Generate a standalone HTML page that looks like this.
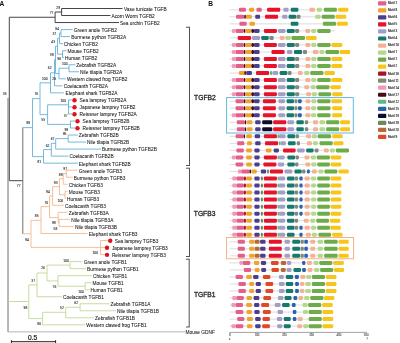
<!DOCTYPE html>
<html><head><meta charset="utf-8"><style>
html,body{margin:0;padding:0;background:#fff;width:400px;height:343px;overflow:hidden}
svg{display:block;position:absolute;left:0;top:0;filter:blur(0.35px)}
</style></head><body>
<svg width="400" height="343" viewBox="0 0 400 343">
<line x1="9.30" y1="17.25" x2="9.30" y2="180.70" stroke="#444444" stroke-width="1.0"/>
<line x1="9.30" y1="17.25" x2="55.10" y2="17.25" stroke="#444444" stroke-width="1.0"/>
<line x1="55.10" y1="12.02" x2="55.10" y2="22.56" stroke="#444444" stroke-width="1.0"/>
<line x1="55.10" y1="12.02" x2="61.60" y2="12.02" stroke="#444444" stroke-width="1.0"/>
<line x1="61.60" y1="8.50" x2="61.60" y2="15.53" stroke="#444444" stroke-width="1.0"/>
<line x1="61.60" y1="8.50" x2="122.50" y2="8.50" stroke="#444444" stroke-width="1.0"/>
<line x1="61.60" y1="15.53" x2="110.50" y2="15.53" stroke="#444444" stroke-width="1.0"/>
<line x1="55.10" y1="22.56" x2="119.00" y2="22.56" stroke="#444444" stroke-width="1.0"/>
<line x1="8.00" y1="98.00" x2="8.00" y2="331.88" stroke="#707070" stroke-width="1.0"/>
<line x1="9.30" y1="180.70" x2="22.80" y2="180.70" stroke="#444444" stroke-width="1.0"/>
<line x1="22.80" y1="127.60" x2="22.80" y2="233.80" stroke="#707070" stroke-width="1.0"/>
<line x1="8.00" y1="331.88" x2="185.00" y2="331.88" stroke="#a8a8b8" stroke-width="0.9"/>
<line x1="22.80" y1="127.60" x2="32.50" y2="127.60" stroke="#52aad2" stroke-width="0.8"/>
<line x1="32.50" y1="98.60" x2="32.50" y2="156.60" stroke="#52aad2" stroke-width="0.8"/>
<line x1="32.50" y1="98.60" x2="40.00" y2="98.60" stroke="#52aad2" stroke-width="0.8"/>
<line x1="40.00" y1="82.85" x2="40.00" y2="114.60" stroke="#52aad2" stroke-width="0.8"/>
<line x1="40.00" y1="82.85" x2="50.50" y2="82.85" stroke="#52aad2" stroke-width="0.8"/>
<line x1="50.50" y1="72.80" x2="50.50" y2="92.86" stroke="#52aad2" stroke-width="0.8"/>
<line x1="50.50" y1="92.86" x2="63.80" y2="92.86" stroke="#52aad2" stroke-width="0.8"/>
<line x1="50.50" y1="72.80" x2="54.50" y2="72.80" stroke="#52aad2" stroke-width="0.8"/>
<line x1="54.50" y1="59.75" x2="54.50" y2="85.83" stroke="#52aad2" stroke-width="0.8"/>
<line x1="54.50" y1="85.83" x2="62.50" y2="85.83" stroke="#52aad2" stroke-width="0.8"/>
<line x1="54.50" y1="59.75" x2="55.50" y2="59.75" stroke="#52aad2" stroke-width="0.8"/>
<line x1="55.50" y1="46.20" x2="55.50" y2="73.50" stroke="#52aad2" stroke-width="0.8"/>
<line x1="55.50" y1="46.20" x2="57.50" y2="46.20" stroke="#52aad2" stroke-width="0.8"/>
<line x1="57.50" y1="38.30" x2="57.50" y2="54.15" stroke="#52aad2" stroke-width="0.8"/>
<line x1="57.50" y1="38.30" x2="59.50" y2="38.30" stroke="#52aad2" stroke-width="0.8"/>
<line x1="59.50" y1="33.00" x2="59.50" y2="43.65" stroke="#52aad2" stroke-width="0.8"/>
<line x1="59.50" y1="43.65" x2="63.00" y2="43.65" stroke="#52aad2" stroke-width="0.8"/>
<line x1="59.50" y1="33.00" x2="61.00" y2="33.00" stroke="#52aad2" stroke-width="0.8"/>
<line x1="61.00" y1="29.59" x2="61.00" y2="36.62" stroke="#52aad2" stroke-width="0.8"/>
<line x1="61.00" y1="29.59" x2="72.50" y2="29.59" stroke="#52aad2" stroke-width="0.8"/>
<line x1="61.00" y1="36.62" x2="70.00" y2="36.62" stroke="#52aad2" stroke-width="0.8"/>
<line x1="57.50" y1="54.15" x2="62.50" y2="54.15" stroke="#52aad2" stroke-width="0.8"/>
<line x1="62.50" y1="50.68" x2="62.50" y2="57.71" stroke="#52aad2" stroke-width="0.8"/>
<line x1="62.50" y1="50.68" x2="66.50" y2="50.68" stroke="#52aad2" stroke-width="0.8"/>
<line x1="62.50" y1="57.71" x2="64.00" y2="57.71" stroke="#52aad2" stroke-width="0.8"/>
<line x1="55.50" y1="73.50" x2="59.00" y2="73.50" stroke="#52aad2" stroke-width="0.8"/>
<line x1="59.00" y1="68.20" x2="59.00" y2="78.80" stroke="#52aad2" stroke-width="0.8"/>
<line x1="59.00" y1="78.80" x2="66.00" y2="78.80" stroke="#52aad2" stroke-width="0.8"/>
<line x1="59.00" y1="68.20" x2="69.00" y2="68.20" stroke="#52aad2" stroke-width="0.8"/>
<line x1="69.00" y1="64.74" x2="69.00" y2="71.77" stroke="#52aad2" stroke-width="0.8"/>
<line x1="69.00" y1="64.74" x2="75.30" y2="64.74" stroke="#52aad2" stroke-width="0.8"/>
<line x1="69.00" y1="71.77" x2="79.00" y2="71.77" stroke="#52aad2" stroke-width="0.8"/>
<line x1="40.00" y1="114.60" x2="47.60" y2="114.60" stroke="#52aad2" stroke-width="0.8"/>
<line x1="47.60" y1="104.80" x2="47.60" y2="124.40" stroke="#52aad2" stroke-width="0.8"/>
<line x1="47.60" y1="104.80" x2="68.50" y2="104.80" stroke="#52aad2" stroke-width="0.8"/>
<line x1="68.50" y1="99.89" x2="68.50" y2="113.95" stroke="#52aad2" stroke-width="0.8"/>
<line x1="68.50" y1="99.89" x2="72.00" y2="99.89" stroke="#52aad2" stroke-width="0.8"/>
<line x1="68.50" y1="106.92" x2="72.00" y2="106.92" stroke="#52aad2" stroke-width="0.8"/>
<line x1="68.50" y1="113.95" x2="72.00" y2="113.95" stroke="#52aad2" stroke-width="0.8"/>
<line x1="47.60" y1="124.40" x2="70.50" y2="124.40" stroke="#52aad2" stroke-width="0.8"/>
<line x1="70.50" y1="120.98" x2="70.50" y2="128.01" stroke="#52aad2" stroke-width="0.8"/>
<line x1="70.50" y1="120.98" x2="75.00" y2="120.98" stroke="#52aad2" stroke-width="0.8"/>
<line x1="70.50" y1="128.01" x2="75.00" y2="128.01" stroke="#52aad2" stroke-width="0.8"/>
<line x1="32.50" y1="156.60" x2="43.50" y2="156.60" stroke="#52aad2" stroke-width="0.8"/>
<line x1="43.50" y1="149.60" x2="43.50" y2="163.16" stroke="#52aad2" stroke-width="0.8"/>
<line x1="43.50" y1="163.16" x2="78.00" y2="163.16" stroke="#52aad2" stroke-width="0.8"/>
<line x1="43.50" y1="149.60" x2="51.30" y2="149.60" stroke="#52aad2" stroke-width="0.8"/>
<line x1="51.30" y1="143.30" x2="51.30" y2="156.13" stroke="#52aad2" stroke-width="0.8"/>
<line x1="51.30" y1="156.13" x2="68.50" y2="156.13" stroke="#52aad2" stroke-width="0.8"/>
<line x1="51.30" y1="143.30" x2="55.70" y2="143.30" stroke="#52aad2" stroke-width="0.8"/>
<line x1="55.70" y1="138.60" x2="55.70" y2="149.10" stroke="#52aad2" stroke-width="0.8"/>
<line x1="55.70" y1="149.10" x2="101.00" y2="149.10" stroke="#52aad2" stroke-width="0.8"/>
<line x1="55.70" y1="138.60" x2="68.20" y2="138.60" stroke="#52aad2" stroke-width="0.8"/>
<line x1="68.20" y1="135.04" x2="68.20" y2="142.07" stroke="#52aad2" stroke-width="0.8"/>
<line x1="68.20" y1="135.04" x2="77.80" y2="135.04" stroke="#52aad2" stroke-width="0.8"/>
<line x1="68.20" y1="142.07" x2="86.00" y2="142.07" stroke="#52aad2" stroke-width="0.8"/>
<line x1="22.80" y1="233.80" x2="31.00" y2="233.80" stroke="#f2ae80" stroke-width="0.8"/>
<line x1="31.00" y1="220.30" x2="31.00" y2="247.40" stroke="#f2ae80" stroke-width="0.8"/>
<line x1="31.00" y1="220.30" x2="41.00" y2="220.30" stroke="#f2ae80" stroke-width="0.8"/>
<line x1="41.00" y1="206.60" x2="41.00" y2="233.46" stroke="#f2ae80" stroke-width="0.8"/>
<line x1="41.00" y1="233.46" x2="87.60" y2="233.46" stroke="#f2ae80" stroke-width="0.8"/>
<line x1="41.00" y1="206.60" x2="49.50" y2="206.60" stroke="#f2ae80" stroke-width="0.8"/>
<line x1="49.50" y1="196.00" x2="49.50" y2="217.60" stroke="#f2ae80" stroke-width="0.8"/>
<line x1="49.50" y1="196.00" x2="52.60" y2="196.00" stroke="#f2ae80" stroke-width="0.8"/>
<line x1="52.60" y1="186.70" x2="52.60" y2="205.34" stroke="#f2ae80" stroke-width="0.8"/>
<line x1="52.60" y1="205.34" x2="64.00" y2="205.34" stroke="#f2ae80" stroke-width="0.8"/>
<line x1="52.60" y1="186.70" x2="59.50" y2="186.70" stroke="#f2ae80" stroke-width="0.8"/>
<line x1="59.50" y1="178.70" x2="59.50" y2="194.80" stroke="#f2ae80" stroke-width="0.8"/>
<line x1="59.50" y1="178.70" x2="63.20" y2="178.70" stroke="#f2ae80" stroke-width="0.8"/>
<line x1="63.20" y1="173.70" x2="63.20" y2="184.25" stroke="#f2ae80" stroke-width="0.8"/>
<line x1="63.20" y1="184.25" x2="67.60" y2="184.25" stroke="#f2ae80" stroke-width="0.8"/>
<line x1="63.20" y1="173.70" x2="66.30" y2="173.70" stroke="#f2ae80" stroke-width="0.8"/>
<line x1="66.30" y1="170.19" x2="66.30" y2="177.22" stroke="#f2ae80" stroke-width="0.8"/>
<line x1="66.30" y1="170.19" x2="77.60" y2="170.19" stroke="#f2ae80" stroke-width="0.8"/>
<line x1="66.30" y1="177.22" x2="72.60" y2="177.22" stroke="#f2ae80" stroke-width="0.8"/>
<line x1="59.50" y1="194.80" x2="65.00" y2="194.80" stroke="#f2ae80" stroke-width="0.8"/>
<line x1="65.00" y1="191.28" x2="65.00" y2="198.31" stroke="#f2ae80" stroke-width="0.8"/>
<line x1="65.00" y1="191.28" x2="67.60" y2="191.28" stroke="#f2ae80" stroke-width="0.8"/>
<line x1="65.00" y1="198.31" x2="66.00" y2="198.31" stroke="#f2ae80" stroke-width="0.8"/>
<line x1="49.50" y1="217.60" x2="58.20" y2="217.60" stroke="#f2ae80" stroke-width="0.8"/>
<line x1="58.20" y1="212.37" x2="58.20" y2="222.90" stroke="#f2ae80" stroke-width="0.8"/>
<line x1="58.20" y1="212.37" x2="67.60" y2="212.37" stroke="#f2ae80" stroke-width="0.8"/>
<line x1="58.20" y1="222.90" x2="59.10" y2="222.90" stroke="#f2ae80" stroke-width="0.8"/>
<line x1="59.10" y1="219.40" x2="59.10" y2="226.43" stroke="#f2ae80" stroke-width="0.8"/>
<line x1="59.10" y1="219.40" x2="70.00" y2="219.40" stroke="#f2ae80" stroke-width="0.8"/>
<line x1="59.10" y1="226.43" x2="73.80" y2="226.43" stroke="#f2ae80" stroke-width="0.8"/>
<line x1="31.00" y1="247.40" x2="100.60" y2="247.40" stroke="#f2ae80" stroke-width="0.8"/>
<line x1="100.60" y1="240.49" x2="100.60" y2="254.55" stroke="#f2ae80" stroke-width="0.8"/>
<line x1="100.60" y1="240.49" x2="108.00" y2="240.49" stroke="#f2ae80" stroke-width="0.8"/>
<line x1="100.60" y1="247.52" x2="105.00" y2="247.52" stroke="#f2ae80" stroke-width="0.8"/>
<line x1="100.60" y1="254.55" x2="105.00" y2="254.55" stroke="#f2ae80" stroke-width="0.8"/>
<line x1="8.00" y1="301.50" x2="28.80" y2="301.50" stroke="#b8d488" stroke-width="0.8"/>
<line x1="28.80" y1="284.90" x2="28.80" y2="318.60" stroke="#b8d488" stroke-width="0.8"/>
<line x1="28.80" y1="284.90" x2="37.00" y2="284.90" stroke="#b8d488" stroke-width="0.8"/>
<line x1="37.00" y1="273.00" x2="37.00" y2="296.73" stroke="#b8d488" stroke-width="0.8"/>
<line x1="37.00" y1="296.73" x2="62.00" y2="296.73" stroke="#b8d488" stroke-width="0.8"/>
<line x1="37.00" y1="273.00" x2="47.00" y2="273.00" stroke="#b8d488" stroke-width="0.8"/>
<line x1="47.00" y1="265.10" x2="47.00" y2="280.90" stroke="#b8d488" stroke-width="0.8"/>
<line x1="47.00" y1="265.10" x2="70.00" y2="265.10" stroke="#b8d488" stroke-width="0.8"/>
<line x1="70.00" y1="261.58" x2="70.00" y2="268.61" stroke="#b8d488" stroke-width="0.8"/>
<line x1="70.00" y1="261.58" x2="82.60" y2="261.58" stroke="#b8d488" stroke-width="0.8"/>
<line x1="70.00" y1="268.61" x2="86.00" y2="268.61" stroke="#b8d488" stroke-width="0.8"/>
<line x1="47.00" y1="280.90" x2="58.00" y2="280.90" stroke="#b8d488" stroke-width="0.8"/>
<line x1="58.00" y1="275.64" x2="58.00" y2="286.20" stroke="#b8d488" stroke-width="0.8"/>
<line x1="58.00" y1="275.64" x2="92.00" y2="275.64" stroke="#b8d488" stroke-width="0.8"/>
<line x1="58.00" y1="286.20" x2="85.10" y2="286.20" stroke="#b8d488" stroke-width="0.8"/>
<line x1="85.10" y1="282.67" x2="85.10" y2="289.70" stroke="#b8d488" stroke-width="0.8"/>
<line x1="85.10" y1="282.67" x2="91.60" y2="282.67" stroke="#b8d488" stroke-width="0.8"/>
<line x1="85.10" y1="289.70" x2="89.60" y2="289.70" stroke="#b8d488" stroke-width="0.8"/>
<line x1="28.80" y1="318.60" x2="42.60" y2="318.60" stroke="#b8d488" stroke-width="0.8"/>
<line x1="42.60" y1="312.30" x2="42.60" y2="324.85" stroke="#b8d488" stroke-width="0.8"/>
<line x1="42.60" y1="324.85" x2="85.00" y2="324.85" stroke="#b8d488" stroke-width="0.8"/>
<line x1="42.60" y1="312.30" x2="65.70" y2="312.30" stroke="#b8d488" stroke-width="0.8"/>
<line x1="65.70" y1="307.30" x2="65.70" y2="317.82" stroke="#b8d488" stroke-width="0.8"/>
<line x1="65.70" y1="317.82" x2="94.00" y2="317.82" stroke="#b8d488" stroke-width="0.8"/>
<line x1="65.70" y1="307.30" x2="80.10" y2="307.30" stroke="#b8d488" stroke-width="0.8"/>
<line x1="80.10" y1="303.76" x2="80.10" y2="310.79" stroke="#b8d488" stroke-width="0.8"/>
<line x1="80.10" y1="303.76" x2="109.50" y2="303.76" stroke="#b8d488" stroke-width="0.8"/>
<line x1="80.10" y1="310.79" x2="116.00" y2="310.79" stroke="#b8d488" stroke-width="0.8"/>
<line x1="189.50" y1="27.25" x2="189.50" y2="165.50" stroke="#4a4a4a" stroke-width="0.95"/>
<line x1="186.00" y1="27.25" x2="189.95" y2="27.25" stroke="#4a4a4a" stroke-width="0.95"/>
<line x1="186.00" y1="165.50" x2="189.95" y2="165.50" stroke="#4a4a4a" stroke-width="0.95"/>
<line x1="189.50" y1="168.20" x2="189.50" y2="256.50" stroke="#4a4a4a" stroke-width="0.95"/>
<line x1="186.00" y1="168.20" x2="189.95" y2="168.20" stroke="#4a4a4a" stroke-width="0.95"/>
<line x1="186.00" y1="256.50" x2="189.95" y2="256.50" stroke="#4a4a4a" stroke-width="0.95"/>
<line x1="189.20" y1="259.20" x2="189.20" y2="327.00" stroke="#4a4a4a" stroke-width="0.95"/>
<line x1="186.00" y1="259.20" x2="189.65" y2="259.20" stroke="#4a4a4a" stroke-width="0.95"/>
<line x1="186.00" y1="327.00" x2="189.65" y2="327.00" stroke="#4a4a4a" stroke-width="0.95"/>
<circle cx="74.5" cy="100.19" r="2.2" fill="#e3101e"/>
<circle cx="74.5" cy="107.22" r="2.2" fill="#e3101e"/>
<circle cx="74.5" cy="114.25" r="2.2" fill="#e3101e"/>
<circle cx="77.5" cy="121.28" r="2.2" fill="#e3101e"/>
<circle cx="77.5" cy="128.31" r="2.2" fill="#e3101e"/>
<circle cx="110.2" cy="240.79" r="2.2" fill="#e3101e"/>
<circle cx="107" cy="247.82" r="2.2" fill="#e3101e"/>
<circle cx="107" cy="254.85" r="2.2" fill="#e3101e"/>
<g font-family="Liberation Sans" font-size="4.8" fill="#111" stroke="#111" stroke-width="0.05"><text x="124" y="10.85">Vase tunicate TGFB</text><text x="111.5" y="17.88">Acorn Worm TGFB2</text><text x="120" y="24.91">Sea urchin TGFB2</text><text x="73.8" y="31.94">Green anole TGFB2</text><text x="71.3" y="38.97">Burmese python TGFB2A</text><text x="63.8" y="46.00">Chicken TGFB2</text><text x="67.5" y="53.03">Mouse TGFB2</text><text x="65" y="60.06">Human TGFB2</text><text x="76.3" y="67.09">Zebrafish TGFB2A</text><text x="80.1" y="74.12">Nile tilapia TGFB2A</text><text x="67" y="81.15">Western clawed frog TGFB2</text><text x="63.8" y="88.18">Coelacanth TGFB2A</text><text x="65.5" y="95.21">Elephant shark TGFB2A</text><text x="79.6" y="102.24">Sea lamprey TGFB2A</text><text x="79.6" y="109.27">Japanese lamprey TGFB2</text><text x="79.6" y="116.30">Reissner lamprey TGFB2A</text><text x="82.6" y="123.33">Sea lamprey TGFB2B</text><text x="82.6" y="130.36">Reissner lamprey TGFB2B</text><text x="78.8" y="137.39">Zebrafish TGFB2B</text><text x="87.1" y="144.42">Nile tilapia TGFB2B</text><text x="102" y="151.45">Burmese python TGFB2B</text><text x="69.5" y="158.48">Coelacanth TGFB2B</text><text x="78.8" y="165.51">Elephant shark TGFB2B</text><text x="78.8" y="172.54">Green anole TGFB3</text><text x="73.8" y="179.57">Burmese python TGFB3</text><text x="68.8" y="186.60">Chicken TGFB3</text><text x="68.8" y="193.63">Mouse TGFB3</text><text x="67" y="200.66">Human TGFB3</text><text x="65" y="207.69">Coelacanth TGFB3</text><text x="68.8" y="214.72">Zebrafish TGFB3A</text><text x="71.3" y="221.75">Nile tilapia TGFB3A</text><text x="75" y="228.78">Nile tilapia TGFB3B</text><text x="88.8" y="235.81">Elephant shark TGFB3</text><text x="114.7" y="242.84">Sea lamprey TGFB3</text><text x="111.9" y="249.87">Japanese lamprey TGFB3</text><text x="111.9" y="256.90">Reissner lamprey TGFB3</text><text x="83.8" y="263.93">Green anole TGFB1</text><text x="87.1" y="270.96">Burmese python TGFB1</text><text x="93.1" y="277.99">Chicken TGFB1</text><text x="92.6" y="285.02">Mouse TGFB1</text><text x="90.6" y="292.05">Human TGFB1</text><text x="63" y="299.08">Coelacanth TGFB1</text><text x="110.5" y="306.11">Zebrafish TGFB1A</text><text x="117" y="313.14">Nile tilapia TGFB1B</text><text x="95.1" y="320.17">Zebrafish TGFB1B</text><text x="86.3" y="327.20">Western clawed frog TGFB1</text><text x="185.6" y="334.23">Mouse GDNF</text></g>
<g font-family="Liberation Sans" font-size="3.35" fill="#1a1a1a" stroke="#1a1a1a" stroke-width="0.07" text-anchor="end"><text x="60" y="8.50">29</text><text x="53.4" y="13.70">77</text><text x="59" y="29.60">84</text><text x="56.2" y="35.10">37</text><text x="55" y="42.60">43</text><text x="53.5" y="56.10">39</text><text x="61" y="60.10">96</text><text x="67.5" y="65.10">100</text><text x="51.5" y="69.10">62</text><text x="56" y="79.60">26</text><text x="47.5" y="79.60">100</text><text x="38.2" y="94.90">76</text><text x="6.5" y="95.10">35</text><text x="66" y="102.10">100</text><text x="45" y="121.10">55</text><text x="30" y="124.30">98</text><text x="68.2" y="130.80">99</text><text x="66.4" y="134.80">95</text><text x="54.4" y="140.10">67</text><text x="49.4" y="146.60">62</text><text x="41" y="162.70">91</text><text x="67" y="169.90">97</text><text x="62.6" y="175.60">89</text><text x="57.6" y="183.50">93</text><text x="20.6" y="187.30">77</text><text x="49.8" y="192.70">94</text><text x="63.2" y="201.90">100</text><text x="48.2" y="203.60">70</text><text x="38.5" y="216.80">85</text><text x="55.7" y="224.00">99</text><text x="57.3" y="229.80">58</text><text x="28.8" y="240.70">94</text><text x="98" y="254.10">100</text><text x="68.8" y="261.60">100</text><text x="44.9" y="269.30">26</text><text x="35.1" y="281.80">37</text><text x="56.3" y="288.10">76</text><text x="83.8" y="292.50">100</text><text x="78" y="304.20">62</text><text x="27.3" y="308.60">98</text><text x="63.8" y="309.20">52</text><text x="41" y="325.20">80</text><text x="67.5" y="116.6" fill="#5a6a30">97</text></g>
<g font-family="Liberation Sans" font-size="6.7" fill="#222" stroke="#222" stroke-width="0.28"><text x="194.1" y="99.8">TGFB2</text><text x="193.8" y="216.1">TGFB3</text><text x="194" y="297.2">TGFB1</text></g>
<g font-family="Liberation Sans" font-weight="bold" font-size="6.6" fill="#111"><text x="-0.6" y="5.8">A</text><text x="208.3" y="6.2">B</text></g>
<line x1="11.20" y1="341.70" x2="55.80" y2="341.70" stroke="#222" stroke-width="1.0"/>
<line x1="11.40" y1="340.20" x2="11.40" y2="343.00" stroke="#222" stroke-width="1.0"/>
<line x1="55.60" y1="340.20" x2="55.60" y2="343.00" stroke="#222" stroke-width="1.0"/>
<text x="32.6" y="339.7" font-family="Liberation Sans" font-size="6.6" fill="#111" stroke="#111" stroke-width="0.2" text-anchor="middle">0.5</text>
<line x1="229.60" y1="9.80" x2="348.30" y2="9.80" stroke="#c4c4c4" stroke-width="0.6"/>
<rect x="238.90" y="7.80" width="7.00" height="4.0" rx="1.10" fill="#e4608a"/>
<rect x="249.00" y="7.80" width="5.10" height="4.0" rx="1.10" fill="#f2a42a"/>
<rect x="256.50" y="7.80" width="5.20" height="4.0" rx="1.10" fill="#e4608a"/>
<rect x="267.10" y="7.80" width="13.10" height="4.0" rx="1.10" fill="#e6132b"/>
<rect x="283.40" y="7.80" width="5.20" height="4.0" rx="1.10" fill="#a39ec6"/>
<rect x="290.70" y="7.80" width="7.70" height="4.0" rx="1.10" fill="#157a6d"/>
<rect x="309.50" y="7.80" width="5.40" height="4.0" rx="1.10" fill="#f5b193"/>
<rect x="316.80" y="7.80" width="4.90" height="4.0" rx="1.10" fill="#b6d88c"/>
<rect x="323.90" y="7.80" width="13.00" height="4.0" rx="1.10" fill="#6cad4a"/>
<rect x="338.10" y="7.80" width="10.20" height="4.0" rx="1.10" fill="#f8c61a"/>
<line x1="229.60" y1="16.83" x2="346.20" y2="16.83" stroke="#c4c4c4" stroke-width="0.6"/>
<rect x="236.00" y="14.83" width="8.30" height="4.0" rx="1.10" fill="#e4608a"/>
<rect x="244.30" y="14.83" width="1.60" height="4.0" rx="0.80" fill="#4a0c14"/>
<rect x="245.90" y="14.83" width="6.00" height="4.0" rx="1.10" fill="#f2a42a"/>
<rect x="255.20" y="14.83" width="4.90" height="4.0" rx="1.10" fill="#4b3e8e"/>
<rect x="265.00" y="14.83" width="13.10" height="4.0" rx="1.10" fill="#e6132b"/>
<rect x="282.10" y="14.83" width="5.30" height="4.0" rx="1.10" fill="#a39ec6"/>
<rect x="288.60" y="14.83" width="7.50" height="4.0" rx="1.10" fill="#157a6d"/>
<rect x="296.40" y="14.83" width="4.10" height="4.0" rx="1.10" fill="#7d8b7c"/>
<rect x="315.20" y="14.83" width="5.40" height="4.0" rx="1.10" fill="#b6d88c"/>
<rect x="321.70" y="14.83" width="13.10" height="4.0" rx="1.10" fill="#6cad4a"/>
<rect x="335.60" y="14.83" width="10.60" height="4.0" rx="1.10" fill="#f8c61a"/>
<line x1="229.60" y1="23.86" x2="347.90" y2="23.86" stroke="#c4c4c4" stroke-width="0.6"/>
<rect x="239.40" y="21.86" width="7.30" height="4.0" rx="1.10" fill="#e4608a"/>
<rect x="249.50" y="21.86" width="5.40" height="4.0" rx="1.10" fill="#f2a42a"/>
<rect x="290.70" y="21.86" width="7.70" height="4.0" rx="1.10" fill="#157a6d"/>
<rect x="322.90" y="21.86" width="13.20" height="4.0" rx="1.10" fill="#6cad4a"/>
<rect x="336.90" y="21.86" width="11.00" height="4.0" rx="1.10" fill="#f8c61a"/>
<line x1="229.60" y1="30.89" x2="335.00" y2="30.89" stroke="#c4c4c4" stroke-width="0.6"/>
<rect x="231.90" y="28.89" width="3.70" height="4.0" rx="1.10" fill="#ee9ab8"/>
<rect x="235.60" y="28.89" width="8.20" height="4.0" rx="1.10" fill="#e4608a"/>
<rect x="243.80" y="28.89" width="1.60" height="4.0" rx="0.80" fill="#4a0c14"/>
<rect x="245.40" y="28.89" width="6.00" height="4.0" rx="1.10" fill="#f2a42a"/>
<rect x="251.40" y="28.89" width="2.60" height="4.0" rx="1.10" fill="#4a0c14"/>
<rect x="254.00" y="28.89" width="5.60" height="4.0" rx="1.10" fill="#4b3e8e"/>
<rect x="263.90" y="28.89" width="13.00" height="4.0" rx="1.10" fill="#e6132b"/>
<rect x="278.00" y="28.89" width="7.50" height="4.0" rx="1.10" fill="#a39ec6"/>
<rect x="286.80" y="28.89" width="8.00" height="4.0" rx="1.10" fill="#157a6d"/>
<rect x="295.10" y="28.89" width="4.10" height="4.0" rx="1.10" fill="#7d8b7c"/>
<rect x="305.40" y="28.89" width="4.90" height="4.0" rx="1.10" fill="#f5b193"/>
<rect x="311.30" y="28.89" width="4.90" height="4.0" rx="1.10" fill="#b6d88c"/>
<rect x="317.30" y="28.89" width="13.30" height="4.0" rx="1.10" fill="#6cad4a"/>
<line x1="229.60" y1="37.92" x2="316.60" y2="37.92" stroke="#c4c4c4" stroke-width="0.6"/>
<rect x="237.70" y="35.92" width="13.40" height="4.0" rx="1.10" fill="#e6132b"/>
<rect x="252.00" y="35.92" width="8.10" height="4.0" rx="1.10" fill="#a39ec6"/>
<rect x="261.20" y="35.92" width="7.60" height="4.0" rx="1.10" fill="#157a6d"/>
<rect x="269.40" y="35.92" width="4.30" height="4.0" rx="1.10" fill="#7d8b7c"/>
<rect x="279.70" y="35.92" width="4.90" height="4.0" rx="1.10" fill="#f5b193"/>
<rect x="285.40" y="35.92" width="5.30" height="4.0" rx="1.10" fill="#b6d88c"/>
<rect x="291.50" y="35.92" width="13.50" height="4.0" rx="1.10" fill="#6cad4a"/>
<rect x="305.90" y="35.92" width="10.70" height="4.0" rx="1.10" fill="#f8c61a"/>
<line x1="229.60" y1="44.95" x2="342.30" y2="44.95" stroke="#c4c4c4" stroke-width="0.6"/>
<rect x="231.90" y="42.95" width="3.70" height="4.0" rx="1.10" fill="#ee9ab8"/>
<rect x="235.60" y="42.95" width="8.20" height="4.0" rx="1.10" fill="#e4608a"/>
<rect x="243.80" y="42.95" width="1.60" height="4.0" rx="0.80" fill="#4a0c14"/>
<rect x="245.40" y="42.95" width="6.00" height="4.0" rx="1.10" fill="#f2a42a"/>
<rect x="251.40" y="42.95" width="2.60" height="4.0" rx="1.10" fill="#4a0c14"/>
<rect x="254.00" y="42.95" width="5.60" height="4.0" rx="1.10" fill="#4b3e8e"/>
<rect x="263.90" y="42.95" width="13.00" height="4.0" rx="1.10" fill="#e6132b"/>
<rect x="278.00" y="42.95" width="7.50" height="4.0" rx="1.10" fill="#a39ec6"/>
<rect x="286.80" y="42.95" width="8.00" height="4.0" rx="1.10" fill="#157a6d"/>
<rect x="295.10" y="42.95" width="4.10" height="4.0" rx="1.10" fill="#7d8b7c"/>
<rect x="305.40" y="42.95" width="4.90" height="4.0" rx="1.10" fill="#f5b193"/>
<rect x="311.30" y="42.95" width="4.90" height="4.0" rx="1.10" fill="#b6d88c"/>
<rect x="317.30" y="42.95" width="13.30" height="4.0" rx="1.10" fill="#6cad4a"/>
<rect x="331.50" y="42.95" width="10.80" height="4.0" rx="1.10" fill="#f8c61a"/>
<line x1="229.60" y1="51.98" x2="350.20" y2="51.98" stroke="#c4c4c4" stroke-width="0.6"/>
<rect x="231.90" y="49.98" width="3.70" height="4.0" rx="1.10" fill="#ee9ab8"/>
<rect x="235.60" y="49.98" width="8.20" height="4.0" rx="1.10" fill="#e4608a"/>
<rect x="243.80" y="49.98" width="1.60" height="4.0" rx="0.80" fill="#4a0c14"/>
<rect x="245.40" y="49.98" width="6.00" height="4.0" rx="1.10" fill="#f2a42a"/>
<rect x="251.40" y="49.98" width="2.60" height="4.0" rx="1.10" fill="#4a0c14"/>
<rect x="254.00" y="49.98" width="5.60" height="4.0" rx="1.10" fill="#4b3e8e"/>
<rect x="271.50" y="49.98" width="13.10" height="4.0" rx="1.10" fill="#e6132b"/>
<rect x="287.00" y="49.98" width="5.30" height="4.0" rx="1.10" fill="#a39ec6"/>
<rect x="294.00" y="49.98" width="8.10" height="4.0" rx="1.10" fill="#157a6d"/>
<rect x="303.00" y="49.98" width="4.00" height="4.0" rx="1.10" fill="#7d8b7c"/>
<rect x="312.80" y="49.98" width="5.70" height="4.0" rx="1.10" fill="#f5b193"/>
<rect x="319.50" y="49.98" width="4.80" height="4.0" rx="1.10" fill="#b6d88c"/>
<rect x="325.50" y="49.98" width="13.50" height="4.0" rx="1.10" fill="#6cad4a"/>
<rect x="339.70" y="49.98" width="10.50" height="4.0" rx="1.10" fill="#f8c61a"/>
<line x1="229.60" y1="59.01" x2="342.30" y2="59.01" stroke="#c4c4c4" stroke-width="0.6"/>
<rect x="231.90" y="57.01" width="3.70" height="4.0" rx="1.10" fill="#ee9ab8"/>
<rect x="235.60" y="57.01" width="8.20" height="4.0" rx="1.10" fill="#e4608a"/>
<rect x="243.80" y="57.01" width="1.60" height="4.0" rx="0.80" fill="#4a0c14"/>
<rect x="245.40" y="57.01" width="6.00" height="4.0" rx="1.10" fill="#f2a42a"/>
<rect x="251.40" y="57.01" width="2.60" height="4.0" rx="1.10" fill="#4a0c14"/>
<rect x="254.00" y="57.01" width="5.60" height="4.0" rx="1.10" fill="#4b3e8e"/>
<rect x="263.90" y="57.01" width="13.00" height="4.0" rx="1.10" fill="#e6132b"/>
<rect x="278.00" y="57.01" width="7.50" height="4.0" rx="1.10" fill="#a39ec6"/>
<rect x="286.80" y="57.01" width="8.00" height="4.0" rx="1.10" fill="#157a6d"/>
<rect x="295.10" y="57.01" width="4.10" height="4.0" rx="1.10" fill="#7d8b7c"/>
<rect x="305.40" y="57.01" width="4.90" height="4.0" rx="1.10" fill="#f5b193"/>
<rect x="311.30" y="57.01" width="4.90" height="4.0" rx="1.10" fill="#b6d88c"/>
<rect x="317.30" y="57.01" width="13.30" height="4.0" rx="1.10" fill="#6cad4a"/>
<rect x="331.50" y="57.01" width="10.80" height="4.0" rx="1.10" fill="#f8c61a"/>
<line x1="229.60" y1="66.04" x2="342.30" y2="66.04" stroke="#c4c4c4" stroke-width="0.6"/>
<rect x="231.90" y="64.04" width="3.70" height="4.0" rx="1.10" fill="#ee9ab8"/>
<rect x="235.60" y="64.04" width="8.20" height="4.0" rx="1.10" fill="#e4608a"/>
<rect x="243.80" y="64.04" width="1.60" height="4.0" rx="0.80" fill="#4a0c14"/>
<rect x="245.40" y="64.04" width="6.00" height="4.0" rx="1.10" fill="#f2a42a"/>
<rect x="251.40" y="64.04" width="2.60" height="4.0" rx="1.10" fill="#4a0c14"/>
<rect x="254.00" y="64.04" width="5.60" height="4.0" rx="1.10" fill="#4b3e8e"/>
<rect x="263.90" y="64.04" width="13.00" height="4.0" rx="1.10" fill="#e6132b"/>
<rect x="278.00" y="64.04" width="7.50" height="4.0" rx="1.10" fill="#a39ec6"/>
<rect x="286.80" y="64.04" width="8.00" height="4.0" rx="1.10" fill="#157a6d"/>
<rect x="295.10" y="64.04" width="4.10" height="4.0" rx="1.10" fill="#7d8b7c"/>
<rect x="305.40" y="64.04" width="4.90" height="4.0" rx="1.10" fill="#f5b193"/>
<rect x="311.30" y="64.04" width="4.90" height="4.0" rx="1.10" fill="#b6d88c"/>
<rect x="317.30" y="64.04" width="13.30" height="4.0" rx="1.10" fill="#6cad4a"/>
<rect x="331.50" y="64.04" width="10.80" height="4.0" rx="1.10" fill="#f8c61a"/>
<line x1="229.60" y1="73.07" x2="334.80" y2="73.07" stroke="#c4c4c4" stroke-width="0.6"/>
<rect x="238.90" y="71.07" width="5.40" height="4.0" rx="1.10" fill="#f2a42a"/>
<rect x="244.30" y="71.07" width="1.60" height="4.0" rx="0.80" fill="#4a0c14"/>
<rect x="246.20" y="71.07" width="5.70" height="4.0" rx="1.10" fill="#4b3e8e"/>
<rect x="256.00" y="71.07" width="13.10" height="4.0" rx="1.10" fill="#e6132b"/>
<rect x="269.90" y="71.07" width="2.40" height="4.0" rx="1.10" fill="#5cb88a"/>
<rect x="272.70" y="71.07" width="5.40" height="4.0" rx="1.10" fill="#a39ec6"/>
<rect x="279.70" y="71.07" width="7.70" height="4.0" rx="1.10" fill="#157a6d"/>
<rect x="288.00" y="71.07" width="3.50" height="4.0" rx="1.10" fill="#7d8b7c"/>
<rect x="298.00" y="71.07" width="4.60" height="4.0" rx="1.10" fill="#f5b193"/>
<rect x="304.30" y="71.07" width="4.90" height="4.0" rx="1.10" fill="#b6d88c"/>
<rect x="310.30" y="71.07" width="13.10" height="4.0" rx="1.10" fill="#6cad4a"/>
<rect x="324.50" y="71.07" width="10.30" height="4.0" rx="1.10" fill="#f8c61a"/>
<line x1="229.60" y1="80.10" x2="342.30" y2="80.10" stroke="#c4c4c4" stroke-width="0.6"/>
<rect x="231.90" y="78.10" width="3.70" height="4.0" rx="1.10" fill="#ee9ab8"/>
<rect x="235.60" y="78.10" width="8.20" height="4.0" rx="1.10" fill="#e4608a"/>
<rect x="243.80" y="78.10" width="1.60" height="4.0" rx="0.80" fill="#4a0c14"/>
<rect x="245.40" y="78.10" width="6.00" height="4.0" rx="1.10" fill="#f2a42a"/>
<rect x="251.40" y="78.10" width="2.60" height="4.0" rx="1.10" fill="#4a0c14"/>
<rect x="254.00" y="78.10" width="5.60" height="4.0" rx="1.10" fill="#4b3e8e"/>
<rect x="263.90" y="78.10" width="13.00" height="4.0" rx="1.10" fill="#e6132b"/>
<rect x="278.00" y="78.10" width="7.50" height="4.0" rx="1.10" fill="#a39ec6"/>
<rect x="286.80" y="78.10" width="8.00" height="4.0" rx="1.10" fill="#157a6d"/>
<rect x="295.10" y="78.10" width="4.10" height="4.0" rx="1.10" fill="#7d8b7c"/>
<rect x="305.40" y="78.10" width="4.90" height="4.0" rx="1.10" fill="#f5b193"/>
<rect x="311.30" y="78.10" width="4.90" height="4.0" rx="1.10" fill="#b6d88c"/>
<rect x="317.30" y="78.10" width="13.30" height="4.0" rx="1.10" fill="#6cad4a"/>
<rect x="331.50" y="78.10" width="10.80" height="4.0" rx="1.10" fill="#f8c61a"/>
<line x1="229.60" y1="87.13" x2="340.80" y2="87.13" stroke="#c4c4c4" stroke-width="0.6"/>
<rect x="231.90" y="85.13" width="3.70" height="4.0" rx="1.10" fill="#ee9ab8"/>
<rect x="235.60" y="85.13" width="8.20" height="4.0" rx="1.10" fill="#e4608a"/>
<rect x="243.80" y="85.13" width="1.60" height="4.0" rx="0.80" fill="#4a0c14"/>
<rect x="245.40" y="85.13" width="6.00" height="4.0" rx="1.10" fill="#f2a42a"/>
<rect x="251.40" y="85.13" width="2.60" height="4.0" rx="1.10" fill="#4a0c14"/>
<rect x="254.00" y="85.13" width="5.60" height="4.0" rx="1.10" fill="#4b3e8e"/>
<rect x="263.90" y="85.13" width="13.00" height="4.0" rx="1.10" fill="#e6132b"/>
<rect x="278.00" y="85.13" width="7.50" height="4.0" rx="1.10" fill="#a39ec6"/>
<rect x="286.80" y="85.13" width="8.00" height="4.0" rx="1.10" fill="#157a6d"/>
<rect x="295.10" y="85.13" width="4.10" height="4.0" rx="1.10" fill="#7d8b7c"/>
<rect x="304.30" y="85.13" width="4.90" height="4.0" rx="1.10" fill="#f5b193"/>
<rect x="310.80" y="85.13" width="4.90" height="4.0" rx="1.10" fill="#b6d88c"/>
<rect x="316.30" y="85.13" width="13.10" height="4.0" rx="1.10" fill="#6cad4a"/>
<rect x="330.40" y="85.13" width="10.40" height="4.0" rx="1.10" fill="#f8c61a"/>
<line x1="229.60" y1="94.16" x2="342.50" y2="94.16" stroke="#c4c4c4" stroke-width="0.6"/>
<rect x="231.90" y="92.16" width="3.70" height="4.0" rx="1.10" fill="#ee9ab8"/>
<rect x="235.60" y="92.16" width="8.20" height="4.0" rx="1.10" fill="#e4608a"/>
<rect x="243.80" y="92.16" width="1.60" height="4.0" rx="0.80" fill="#4a0c14"/>
<rect x="245.40" y="92.16" width="6.00" height="4.0" rx="1.10" fill="#f2a42a"/>
<rect x="251.40" y="92.16" width="2.60" height="4.0" rx="1.10" fill="#4a0c14"/>
<rect x="254.00" y="92.16" width="5.60" height="4.0" rx="1.10" fill="#4b3e8e"/>
<rect x="263.90" y="92.16" width="13.00" height="4.0" rx="1.10" fill="#e6132b"/>
<rect x="278.00" y="92.16" width="7.50" height="4.0" rx="1.10" fill="#a39ec6"/>
<rect x="286.80" y="92.16" width="8.00" height="4.0" rx="1.10" fill="#157a6d"/>
<rect x="295.10" y="92.16" width="4.10" height="4.0" rx="1.10" fill="#7d8b7c"/>
<rect x="306.20" y="92.16" width="4.90" height="4.0" rx="1.10" fill="#f5b193"/>
<rect x="312.00" y="92.16" width="4.80" height="4.0" rx="1.10" fill="#b6d88c"/>
<rect x="318.50" y="92.16" width="12.50" height="4.0" rx="1.10" fill="#6cad4a"/>
<rect x="332.30" y="92.16" width="10.20" height="4.0" rx="1.10" fill="#f8c61a"/>
<line x1="229.60" y1="101.19" x2="342.10" y2="101.19" stroke="#c4c4c4" stroke-width="0.6"/>
<rect x="235.60" y="99.19" width="8.20" height="4.0" rx="1.10" fill="#e4608a"/>
<rect x="243.80" y="99.19" width="1.60" height="4.0" rx="0.80" fill="#4a0c14"/>
<rect x="245.40" y="99.19" width="6.00" height="4.0" rx="1.10" fill="#f2a42a"/>
<rect x="251.40" y="99.19" width="2.60" height="4.0" rx="1.10" fill="#4a0c14"/>
<rect x="254.00" y="99.19" width="5.60" height="4.0" rx="1.10" fill="#4b3e8e"/>
<rect x="262.90" y="99.19" width="13.00" height="4.0" rx="1.10" fill="#e6132b"/>
<rect x="278.50" y="99.19" width="6.50" height="4.0" rx="1.10" fill="#a39ec6"/>
<rect x="286.60" y="99.19" width="7.40" height="4.0" rx="1.10" fill="#157a6d"/>
<rect x="294.50" y="99.19" width="2.90" height="4.0" rx="1.10" fill="#7d8b7c"/>
<rect x="298.00" y="99.19" width="3.70" height="4.0" rx="1.10" fill="#2b62b0"/>
<rect x="305.60" y="99.19" width="4.70" height="4.0" rx="1.10" fill="#f5b193"/>
<rect x="311.40" y="99.19" width="4.90" height="4.0" rx="1.10" fill="#b6d88c"/>
<rect x="317.30" y="99.19" width="13.10" height="4.0" rx="1.10" fill="#6cad4a"/>
<rect x="331.50" y="99.19" width="10.60" height="4.0" rx="1.10" fill="#f8c61a"/>
<line x1="229.60" y1="108.22" x2="342.10" y2="108.22" stroke="#c4c4c4" stroke-width="0.6"/>
<rect x="235.60" y="106.22" width="8.20" height="4.0" rx="1.10" fill="#e4608a"/>
<rect x="243.80" y="106.22" width="1.60" height="4.0" rx="0.80" fill="#4a0c14"/>
<rect x="245.40" y="106.22" width="6.00" height="4.0" rx="1.10" fill="#f2a42a"/>
<rect x="251.40" y="106.22" width="2.60" height="4.0" rx="1.10" fill="#4a0c14"/>
<rect x="254.00" y="106.22" width="5.60" height="4.0" rx="1.10" fill="#4b3e8e"/>
<rect x="262.90" y="106.22" width="13.00" height="4.0" rx="1.10" fill="#e6132b"/>
<rect x="278.50" y="106.22" width="6.50" height="4.0" rx="1.10" fill="#a39ec6"/>
<rect x="286.60" y="106.22" width="7.40" height="4.0" rx="1.10" fill="#157a6d"/>
<rect x="294.50" y="106.22" width="2.90" height="4.0" rx="1.10" fill="#7d8b7c"/>
<rect x="298.00" y="106.22" width="3.70" height="4.0" rx="1.10" fill="#2b62b0"/>
<rect x="305.40" y="106.22" width="4.90" height="4.0" rx="1.10" fill="#f5b193"/>
<rect x="311.10" y="106.22" width="4.90" height="4.0" rx="1.10" fill="#b6d88c"/>
<rect x="317.30" y="106.22" width="13.10" height="4.0" rx="1.10" fill="#6cad4a"/>
<rect x="332.30" y="106.22" width="9.80" height="4.0" rx="1.10" fill="#f8c61a"/>
<line x1="229.60" y1="115.25" x2="342.10" y2="115.25" stroke="#c4c4c4" stroke-width="0.6"/>
<rect x="231.90" y="113.25" width="3.70" height="4.0" rx="1.10" fill="#ee9ab8"/>
<rect x="235.60" y="113.25" width="8.20" height="4.0" rx="1.10" fill="#e4608a"/>
<rect x="243.80" y="113.25" width="1.60" height="4.0" rx="0.80" fill="#4a0c14"/>
<rect x="245.40" y="113.25" width="6.00" height="4.0" rx="1.10" fill="#f2a42a"/>
<rect x="251.40" y="113.25" width="2.60" height="4.0" rx="1.10" fill="#4a0c14"/>
<rect x="254.00" y="113.25" width="5.60" height="4.0" rx="1.10" fill="#4b3e8e"/>
<rect x="262.90" y="113.25" width="13.00" height="4.0" rx="1.10" fill="#e6132b"/>
<rect x="278.50" y="113.25" width="6.50" height="4.0" rx="1.10" fill="#a39ec6"/>
<rect x="286.60" y="113.25" width="7.40" height="4.0" rx="1.10" fill="#157a6d"/>
<rect x="294.50" y="113.25" width="2.90" height="4.0" rx="1.10" fill="#7d8b7c"/>
<rect x="298.00" y="113.25" width="3.70" height="4.0" rx="1.10" fill="#2b62b0"/>
<rect x="305.40" y="113.25" width="4.90" height="4.0" rx="1.10" fill="#f5b193"/>
<rect x="311.10" y="113.25" width="4.90" height="4.0" rx="1.10" fill="#b6d88c"/>
<rect x="317.30" y="113.25" width="13.10" height="4.0" rx="1.10" fill="#6cad4a"/>
<rect x="332.30" y="113.25" width="9.80" height="4.0" rx="1.10" fill="#f8c61a"/>
<line x1="229.60" y1="122.28" x2="350.00" y2="122.28" stroke="#c4c4c4" stroke-width="0.6"/>
<rect x="236.80" y="120.28" width="8.10" height="4.0" rx="1.10" fill="#e4608a"/>
<rect x="244.90" y="120.28" width="1.30" height="4.0" rx="0.65" fill="#4a0c14"/>
<rect x="247.00" y="120.28" width="5.40" height="4.0" rx="1.10" fill="#f2a42a"/>
<rect x="255.20" y="120.28" width="5.40" height="4.0" rx="1.10" fill="#4b3e8e"/>
<rect x="262.20" y="120.28" width="10.10" height="4.0" rx="1.10" fill="#0c0c2e"/>
<rect x="273.20" y="120.28" width="13.10" height="4.0" rx="1.10" fill="#e6132b"/>
<rect x="287.40" y="120.28" width="6.60" height="4.0" rx="1.10" fill="#a39ec6"/>
<rect x="296.40" y="120.28" width="7.40" height="4.0" rx="1.10" fill="#157a6d"/>
<rect x="304.90" y="120.28" width="3.30" height="4.0" rx="1.10" fill="#7d8b7c"/>
<rect x="313.10" y="120.28" width="4.90" height="4.0" rx="1.10" fill="#f5b193"/>
<rect x="319.60" y="120.28" width="5.40" height="4.0" rx="1.10" fill="#b6d88c"/>
<rect x="326.10" y="120.28" width="13.10" height="4.0" rx="1.10" fill="#6cad4a"/>
<rect x="340.20" y="120.28" width="9.80" height="4.0" rx="1.10" fill="#f8c61a"/>
<line x1="229.60" y1="129.31" x2="350.00" y2="129.31" stroke="#c4c4c4" stroke-width="0.6"/>
<rect x="236.80" y="127.31" width="8.10" height="4.0" rx="1.10" fill="#e4608a"/>
<rect x="244.90" y="127.31" width="1.30" height="4.0" rx="0.65" fill="#4a0c14"/>
<rect x="247.00" y="127.31" width="5.40" height="4.0" rx="1.10" fill="#f2a42a"/>
<rect x="255.20" y="127.31" width="5.40" height="4.0" rx="1.10" fill="#4b3e8e"/>
<rect x="262.20" y="127.31" width="10.10" height="4.0" rx="1.10" fill="#0c0c2e"/>
<rect x="273.20" y="127.31" width="13.10" height="4.0" rx="1.10" fill="#e6132b"/>
<rect x="287.40" y="127.31" width="6.60" height="4.0" rx="1.10" fill="#a39ec6"/>
<rect x="296.40" y="127.31" width="7.40" height="4.0" rx="1.10" fill="#157a6d"/>
<rect x="304.90" y="127.31" width="3.30" height="4.0" rx="1.10" fill="#7d8b7c"/>
<rect x="313.10" y="127.31" width="4.90" height="4.0" rx="1.10" fill="#f5b193"/>
<rect x="319.60" y="127.31" width="5.40" height="4.0" rx="1.10" fill="#b6d88c"/>
<rect x="326.10" y="127.31" width="13.10" height="4.0" rx="1.10" fill="#6cad4a"/>
<rect x="340.20" y="127.31" width="9.80" height="4.0" rx="1.10" fill="#f8c61a"/>
<line x1="229.60" y1="136.34" x2="342.50" y2="136.34" stroke="#c4c4c4" stroke-width="0.6"/>
<rect x="235.60" y="134.34" width="8.20" height="4.0" rx="1.10" fill="#e4608a"/>
<rect x="243.80" y="134.34" width="1.20" height="4.0" rx="0.60" fill="#4a0c14"/>
<rect x="246.20" y="134.34" width="5.70" height="4.0" rx="1.10" fill="#f2a42a"/>
<rect x="254.70" y="134.34" width="5.40" height="4.0" rx="1.10" fill="#4b3e8e"/>
<rect x="263.90" y="134.34" width="13.00" height="4.0" rx="1.10" fill="#e6132b"/>
<rect x="277.50" y="134.34" width="1.50" height="4.0" rx="0.75" fill="#5cb88a"/>
<rect x="279.00" y="134.34" width="6.50" height="4.0" rx="1.10" fill="#a39ec6"/>
<rect x="287.40" y="134.34" width="7.70" height="4.0" rx="1.10" fill="#157a6d"/>
<rect x="295.60" y="134.34" width="3.30" height="4.0" rx="1.10" fill="#7d8b7c"/>
<rect x="306.20" y="134.34" width="4.90" height="4.0" rx="1.10" fill="#f5b193"/>
<rect x="312.00" y="134.34" width="4.80" height="4.0" rx="1.10" fill="#b6d88c"/>
<rect x="317.70" y="134.34" width="13.30" height="4.0" rx="1.10" fill="#6cad4a"/>
<rect x="332.30" y="134.34" width="10.20" height="4.0" rx="1.10" fill="#f8c61a"/>
<line x1="229.60" y1="143.37" x2="343.40" y2="143.37" stroke="#c4c4c4" stroke-width="0.6"/>
<rect x="237.20" y="141.37" width="7.10" height="4.0" rx="1.10" fill="#e4608a"/>
<rect x="247.00" y="141.37" width="4.90" height="4.0" rx="1.10" fill="#f2a42a"/>
<rect x="255.20" y="141.37" width="5.40" height="4.0" rx="1.10" fill="#4b3e8e"/>
<rect x="265.00" y="141.37" width="13.10" height="4.0" rx="1.10" fill="#e6132b"/>
<rect x="278.90" y="141.37" width="1.60" height="4.0" rx="0.80" fill="#5cb88a"/>
<rect x="280.50" y="141.37" width="5.30" height="4.0" rx="1.10" fill="#a39ec6"/>
<rect x="288.00" y="141.37" width="7.60" height="4.0" rx="1.10" fill="#157a6d"/>
<rect x="296.80" y="141.37" width="3.20" height="4.0" rx="1.10" fill="#7d8b7c"/>
<rect x="307.00" y="141.37" width="4.90" height="4.0" rx="1.10" fill="#f5b193"/>
<rect x="313.10" y="141.37" width="4.60" height="4.0" rx="1.10" fill="#b6d88c"/>
<rect x="319.60" y="141.37" width="13.10" height="4.0" rx="1.10" fill="#6cad4a"/>
<rect x="333.70" y="141.37" width="9.70" height="4.0" rx="1.10" fill="#f8c61a"/>
<line x1="229.60" y1="150.40" x2="349.00" y2="150.40" stroke="#c4c4c4" stroke-width="0.6"/>
<rect x="236.40" y="148.40" width="7.40" height="4.0" rx="1.10" fill="#e4608a"/>
<rect x="246.20" y="148.40" width="5.70" height="4.0" rx="1.10" fill="#f2a42a"/>
<rect x="254.40" y="148.40" width="5.20" height="4.0" rx="1.10" fill="#4b3e8e"/>
<rect x="265.80" y="148.40" width="5.70" height="4.0" rx="1.10" fill="#f2a42a"/>
<rect x="273.70" y="148.40" width="5.20" height="4.0" rx="1.10" fill="#4b3e8e"/>
<rect x="283.00" y="148.40" width="12.60" height="4.0" rx="1.10" fill="#e6132b"/>
<rect x="297.20" y="148.40" width="7.40" height="4.0" rx="1.10" fill="#a39ec6"/>
<rect x="306.20" y="148.40" width="7.40" height="4.0" rx="1.10" fill="#157a6d"/>
<rect x="314.70" y="148.40" width="3.80" height="4.0" rx="1.10" fill="#7d8b7c"/>
<rect x="323.90" y="148.40" width="4.90" height="4.0" rx="1.10" fill="#f5b193"/>
<rect x="329.90" y="148.40" width="4.90" height="4.0" rx="1.10" fill="#b6d88c"/>
<rect x="335.90" y="148.40" width="13.10" height="4.0" rx="1.10" fill="#6cad4a"/>
<line x1="229.60" y1="157.43" x2="341.30" y2="157.43" stroke="#c4c4c4" stroke-width="0.6"/>
<rect x="231.90" y="155.43" width="3.70" height="4.0" rx="1.10" fill="#ee9ab8"/>
<rect x="235.60" y="155.43" width="7.70" height="4.0" rx="1.10" fill="#e4608a"/>
<rect x="246.20" y="155.43" width="5.70" height="4.0" rx="1.10" fill="#f2a42a"/>
<rect x="254.40" y="155.43" width="5.20" height="4.0" rx="1.10" fill="#4b3e8e"/>
<rect x="263.90" y="155.43" width="13.00" height="4.0" rx="1.10" fill="#e6132b"/>
<rect x="277.60" y="155.43" width="1.30" height="4.0" rx="0.65" fill="#5cb88a"/>
<rect x="278.90" y="155.43" width="5.70" height="4.0" rx="1.10" fill="#a39ec6"/>
<rect x="287.40" y="155.43" width="7.70" height="4.0" rx="1.10" fill="#157a6d"/>
<rect x="295.60" y="155.43" width="3.30" height="4.0" rx="1.10" fill="#7d8b7c"/>
<rect x="304.60" y="155.43" width="4.90" height="4.0" rx="1.10" fill="#f5b193"/>
<rect x="310.80" y="155.43" width="5.20" height="4.0" rx="1.10" fill="#b6d88c"/>
<rect x="316.80" y="155.43" width="13.10" height="4.0" rx="1.10" fill="#6cad4a"/>
<rect x="330.70" y="155.43" width="10.60" height="4.0" rx="1.10" fill="#f8c61a"/>
<line x1="229.60" y1="164.46" x2="341.30" y2="164.46" stroke="#c4c4c4" stroke-width="0.6"/>
<rect x="235.60" y="162.46" width="7.70" height="4.0" rx="1.10" fill="#e4608a"/>
<rect x="246.20" y="162.46" width="5.70" height="4.0" rx="1.10" fill="#f2a42a"/>
<rect x="254.40" y="162.46" width="5.20" height="4.0" rx="1.10" fill="#4b3e8e"/>
<rect x="263.40" y="162.46" width="13.00" height="4.0" rx="1.10" fill="#e6132b"/>
<rect x="278.00" y="162.46" width="6.10" height="4.0" rx="1.10" fill="#a39ec6"/>
<rect x="287.40" y="162.46" width="7.40" height="4.0" rx="1.10" fill="#157a6d"/>
<rect x="295.10" y="162.46" width="3.30" height="4.0" rx="1.10" fill="#7d8b7c"/>
<rect x="305.40" y="162.46" width="4.90" height="4.0" rx="1.10" fill="#f5b193"/>
<rect x="311.40" y="162.46" width="4.90" height="4.0" rx="1.10" fill="#b6d88c"/>
<rect x="317.30" y="162.46" width="12.60" height="4.0" rx="1.10" fill="#6cad4a"/>
<rect x="330.70" y="162.46" width="10.60" height="4.0" rx="1.10" fill="#f8c61a"/>
<line x1="229.60" y1="171.49" x2="348.70" y2="171.49" stroke="#c4c4c4" stroke-width="0.6"/>
<rect x="238.00" y="169.49" width="3.30" height="4.0" rx="1.10" fill="#ee9ab8"/>
<rect x="241.30" y="169.49" width="8.20" height="4.0" rx="1.10" fill="#e4608a"/>
<rect x="249.50" y="169.49" width="1.50" height="4.0" rx="0.75" fill="#4a0c14"/>
<rect x="251.40" y="169.49" width="5.40" height="4.0" rx="1.10" fill="#f2a42a"/>
<rect x="260.90" y="169.49" width="5.20" height="4.0" rx="1.10" fill="#4b3e8e"/>
<rect x="267.10" y="169.49" width="1.70" height="4.0" rx="0.85" fill="#6a8a5a"/>
<rect x="269.90" y="169.49" width="13.10" height="4.0" rx="1.10" fill="#e6132b"/>
<rect x="284.60" y="169.49" width="7.70" height="4.0" rx="1.10" fill="#a39ec6"/>
<rect x="294.50" y="169.49" width="7.20" height="4.0" rx="1.10" fill="#157a6d"/>
<rect x="302.10" y="169.49" width="3.30" height="4.0" rx="1.10" fill="#7d8b7c"/>
<rect x="307.00" y="169.49" width="2.80" height="4.0" rx="1.10" fill="#2b62b0"/>
<rect x="312.00" y="169.49" width="4.80" height="4.0" rx="1.10" fill="#f5b193"/>
<rect x="318.50" y="169.49" width="4.90" height="4.0" rx="1.10" fill="#b6d88c"/>
<rect x="324.50" y="169.49" width="12.70" height="4.0" rx="1.10" fill="#6cad4a"/>
<rect x="338.60" y="169.49" width="10.10" height="4.0" rx="1.10" fill="#f8c61a"/>
<line x1="229.60" y1="178.52" x2="341.30" y2="178.52" stroke="#c4c4c4" stroke-width="0.6"/>
<rect x="232.30" y="176.52" width="4.10" height="4.0" rx="1.10" fill="#ee9ab8"/>
<rect x="236.40" y="176.52" width="7.40" height="4.0" rx="1.10" fill="#e4608a"/>
<rect x="243.80" y="176.52" width="2.10" height="4.0" rx="1.05" fill="#a8142a"/>
<rect x="246.20" y="176.52" width="5.70" height="4.0" rx="1.10" fill="#f2a42a"/>
<rect x="254.40" y="176.52" width="5.20" height="4.0" rx="1.10" fill="#4b3e8e"/>
<rect x="260.90" y="176.52" width="2.00" height="4.0" rx="1.00" fill="#6a8a5a"/>
<rect x="263.90" y="176.52" width="13.00" height="4.0" rx="1.10" fill="#e6132b"/>
<rect x="277.60" y="176.52" width="1.30" height="4.0" rx="0.65" fill="#5cb88a"/>
<rect x="278.90" y="176.52" width="6.20" height="4.0" rx="1.10" fill="#a39ec6"/>
<rect x="287.00" y="176.52" width="7.50" height="4.0" rx="1.10" fill="#157a6d"/>
<rect x="294.80" y="176.52" width="3.30" height="4.0" rx="1.10" fill="#7d8b7c"/>
<rect x="299.40" y="176.52" width="3.20" height="4.0" rx="1.10" fill="#2b62b0"/>
<rect x="304.60" y="176.52" width="5.20" height="4.0" rx="1.10" fill="#f5b193"/>
<rect x="311.10" y="176.52" width="4.90" height="4.0" rx="1.10" fill="#b6d88c"/>
<rect x="317.30" y="176.52" width="12.60" height="4.0" rx="1.10" fill="#6cad4a"/>
<rect x="330.70" y="176.52" width="10.60" height="4.0" rx="1.10" fill="#f8c61a"/>
<line x1="229.60" y1="185.55" x2="341.30" y2="185.55" stroke="#c4c4c4" stroke-width="0.6"/>
<rect x="232.30" y="183.55" width="4.10" height="4.0" rx="1.10" fill="#ee9ab8"/>
<rect x="236.40" y="183.55" width="7.40" height="4.0" rx="1.10" fill="#e4608a"/>
<rect x="243.80" y="183.55" width="2.10" height="4.0" rx="1.05" fill="#a8142a"/>
<rect x="246.20" y="183.55" width="5.70" height="4.0" rx="1.10" fill="#f2a42a"/>
<rect x="254.40" y="183.55" width="5.20" height="4.0" rx="1.10" fill="#4b3e8e"/>
<rect x="260.90" y="183.55" width="2.00" height="4.0" rx="1.00" fill="#6a8a5a"/>
<rect x="263.90" y="183.55" width="13.00" height="4.0" rx="1.10" fill="#e6132b"/>
<rect x="277.60" y="183.55" width="1.30" height="4.0" rx="0.65" fill="#5cb88a"/>
<rect x="278.90" y="183.55" width="6.20" height="4.0" rx="1.10" fill="#a39ec6"/>
<rect x="287.00" y="183.55" width="7.50" height="4.0" rx="1.10" fill="#157a6d"/>
<rect x="294.80" y="183.55" width="3.30" height="4.0" rx="1.10" fill="#7d8b7c"/>
<rect x="299.40" y="183.55" width="3.20" height="4.0" rx="1.10" fill="#2b62b0"/>
<rect x="304.60" y="183.55" width="5.20" height="4.0" rx="1.10" fill="#f5b193"/>
<rect x="311.10" y="183.55" width="4.90" height="4.0" rx="1.10" fill="#b6d88c"/>
<rect x="317.30" y="183.55" width="12.60" height="4.0" rx="1.10" fill="#6cad4a"/>
<rect x="330.70" y="183.55" width="10.60" height="4.0" rx="1.10" fill="#f8c61a"/>
<line x1="229.60" y1="192.58" x2="341.30" y2="192.58" stroke="#c4c4c4" stroke-width="0.6"/>
<rect x="232.30" y="190.58" width="4.10" height="4.0" rx="1.10" fill="#ee9ab8"/>
<rect x="236.40" y="190.58" width="7.40" height="4.0" rx="1.10" fill="#e4608a"/>
<rect x="243.80" y="190.58" width="2.10" height="4.0" rx="1.05" fill="#a8142a"/>
<rect x="246.20" y="190.58" width="5.70" height="4.0" rx="1.10" fill="#f2a42a"/>
<rect x="254.40" y="190.58" width="5.20" height="4.0" rx="1.10" fill="#4b3e8e"/>
<rect x="260.90" y="190.58" width="2.00" height="4.0" rx="1.00" fill="#6a8a5a"/>
<rect x="263.90" y="190.58" width="13.00" height="4.0" rx="1.10" fill="#e6132b"/>
<rect x="277.60" y="190.58" width="1.30" height="4.0" rx="0.65" fill="#5cb88a"/>
<rect x="278.90" y="190.58" width="6.20" height="4.0" rx="1.10" fill="#a39ec6"/>
<rect x="287.00" y="190.58" width="7.50" height="4.0" rx="1.10" fill="#157a6d"/>
<rect x="294.80" y="190.58" width="3.30" height="4.0" rx="1.10" fill="#7d8b7c"/>
<rect x="299.40" y="190.58" width="3.20" height="4.0" rx="1.10" fill="#2b62b0"/>
<rect x="304.60" y="190.58" width="5.20" height="4.0" rx="1.10" fill="#f5b193"/>
<rect x="311.10" y="190.58" width="4.90" height="4.0" rx="1.10" fill="#b6d88c"/>
<rect x="317.30" y="190.58" width="12.60" height="4.0" rx="1.10" fill="#6cad4a"/>
<rect x="330.70" y="190.58" width="10.60" height="4.0" rx="1.10" fill="#f8c61a"/>
<line x1="229.60" y1="199.61" x2="341.30" y2="199.61" stroke="#c4c4c4" stroke-width="0.6"/>
<rect x="232.30" y="197.61" width="4.10" height="4.0" rx="1.10" fill="#ee9ab8"/>
<rect x="236.40" y="197.61" width="7.40" height="4.0" rx="1.10" fill="#e4608a"/>
<rect x="243.80" y="197.61" width="2.10" height="4.0" rx="1.05" fill="#a8142a"/>
<rect x="246.20" y="197.61" width="5.70" height="4.0" rx="1.10" fill="#f2a42a"/>
<rect x="254.40" y="197.61" width="5.20" height="4.0" rx="1.10" fill="#4b3e8e"/>
<rect x="260.90" y="197.61" width="2.00" height="4.0" rx="1.00" fill="#6a8a5a"/>
<rect x="263.90" y="197.61" width="13.00" height="4.0" rx="1.10" fill="#e6132b"/>
<rect x="277.60" y="197.61" width="1.30" height="4.0" rx="0.65" fill="#5cb88a"/>
<rect x="278.90" y="197.61" width="6.20" height="4.0" rx="1.10" fill="#a39ec6"/>
<rect x="287.00" y="197.61" width="7.50" height="4.0" rx="1.10" fill="#157a6d"/>
<rect x="294.80" y="197.61" width="3.30" height="4.0" rx="1.10" fill="#7d8b7c"/>
<rect x="299.40" y="197.61" width="3.20" height="4.0" rx="1.10" fill="#2b62b0"/>
<rect x="304.60" y="197.61" width="5.20" height="4.0" rx="1.10" fill="#f5b193"/>
<rect x="311.10" y="197.61" width="4.90" height="4.0" rx="1.10" fill="#b6d88c"/>
<rect x="317.30" y="197.61" width="12.60" height="4.0" rx="1.10" fill="#6cad4a"/>
<rect x="330.70" y="197.61" width="10.60" height="4.0" rx="1.10" fill="#f8c61a"/>
<line x1="229.60" y1="206.64" x2="341.30" y2="206.64" stroke="#c4c4c4" stroke-width="0.6"/>
<rect x="232.30" y="204.64" width="4.10" height="4.0" rx="1.10" fill="#ee9ab8"/>
<rect x="236.40" y="204.64" width="7.40" height="4.0" rx="1.10" fill="#e4608a"/>
<rect x="243.80" y="204.64" width="2.10" height="4.0" rx="1.05" fill="#a8142a"/>
<rect x="246.20" y="204.64" width="5.70" height="4.0" rx="1.10" fill="#f2a42a"/>
<rect x="254.40" y="204.64" width="5.20" height="4.0" rx="1.10" fill="#4b3e8e"/>
<rect x="260.90" y="204.64" width="2.00" height="4.0" rx="1.00" fill="#6a8a5a"/>
<rect x="263.90" y="204.64" width="13.00" height="4.0" rx="1.10" fill="#e6132b"/>
<rect x="277.60" y="204.64" width="1.30" height="4.0" rx="0.65" fill="#5cb88a"/>
<rect x="278.90" y="204.64" width="6.20" height="4.0" rx="1.10" fill="#a39ec6"/>
<rect x="287.00" y="204.64" width="7.50" height="4.0" rx="1.10" fill="#157a6d"/>
<rect x="294.80" y="204.64" width="3.30" height="4.0" rx="1.10" fill="#7d8b7c"/>
<rect x="299.40" y="204.64" width="3.20" height="4.0" rx="1.10" fill="#2b62b0"/>
<rect x="304.60" y="204.64" width="5.20" height="4.0" rx="1.10" fill="#f5b193"/>
<rect x="311.10" y="204.64" width="4.90" height="4.0" rx="1.10" fill="#b6d88c"/>
<rect x="317.30" y="204.64" width="12.60" height="4.0" rx="1.10" fill="#6cad4a"/>
<rect x="330.70" y="204.64" width="10.60" height="4.0" rx="1.10" fill="#f8c61a"/>
<line x1="229.60" y1="213.67" x2="341.30" y2="213.67" stroke="#c4c4c4" stroke-width="0.6"/>
<rect x="232.30" y="211.67" width="4.10" height="4.0" rx="1.10" fill="#ee9ab8"/>
<rect x="236.40" y="211.67" width="7.40" height="4.0" rx="1.10" fill="#e4608a"/>
<rect x="243.80" y="211.67" width="2.10" height="4.0" rx="1.05" fill="#a8142a"/>
<rect x="246.20" y="211.67" width="5.70" height="4.0" rx="1.10" fill="#f2a42a"/>
<rect x="254.40" y="211.67" width="5.20" height="4.0" rx="1.10" fill="#4b3e8e"/>
<rect x="260.90" y="211.67" width="2.00" height="4.0" rx="1.00" fill="#6a8a5a"/>
<rect x="263.90" y="211.67" width="13.00" height="4.0" rx="1.10" fill="#e6132b"/>
<rect x="277.60" y="211.67" width="1.30" height="4.0" rx="0.65" fill="#5cb88a"/>
<rect x="278.90" y="211.67" width="6.20" height="4.0" rx="1.10" fill="#a39ec6"/>
<rect x="287.00" y="211.67" width="7.50" height="4.0" rx="1.10" fill="#157a6d"/>
<rect x="294.80" y="211.67" width="3.30" height="4.0" rx="1.10" fill="#7d8b7c"/>
<rect x="299.40" y="211.67" width="3.20" height="4.0" rx="1.10" fill="#2b62b0"/>
<rect x="304.60" y="211.67" width="5.20" height="4.0" rx="1.10" fill="#f5b193"/>
<rect x="311.10" y="211.67" width="4.90" height="4.0" rx="1.10" fill="#b6d88c"/>
<rect x="317.30" y="211.67" width="12.60" height="4.0" rx="1.10" fill="#6cad4a"/>
<rect x="330.70" y="211.67" width="10.60" height="4.0" rx="1.10" fill="#f8c61a"/>
<line x1="229.60" y1="220.70" x2="340.20" y2="220.70" stroke="#c4c4c4" stroke-width="0.6"/>
<rect x="232.30" y="218.70" width="4.10" height="4.0" rx="1.10" fill="#ee9ab8"/>
<rect x="236.40" y="218.70" width="7.40" height="4.0" rx="1.10" fill="#e4608a"/>
<rect x="243.80" y="218.70" width="2.10" height="4.0" rx="1.05" fill="#a8142a"/>
<rect x="246.20" y="218.70" width="5.70" height="4.0" rx="1.10" fill="#f2a42a"/>
<rect x="254.40" y="218.70" width="5.20" height="4.0" rx="1.10" fill="#4b3e8e"/>
<rect x="260.90" y="218.70" width="2.00" height="4.0" rx="1.00" fill="#6a8a5a"/>
<rect x="263.90" y="218.70" width="13.00" height="4.0" rx="1.10" fill="#e6132b"/>
<rect x="277.60" y="218.70" width="1.30" height="4.0" rx="0.65" fill="#5cb88a"/>
<rect x="278.90" y="218.70" width="6.20" height="4.0" rx="1.10" fill="#a39ec6"/>
<rect x="287.00" y="218.70" width="7.50" height="4.0" rx="1.10" fill="#157a6d"/>
<rect x="294.80" y="218.70" width="3.30" height="4.0" rx="1.10" fill="#7d8b7c"/>
<rect x="303.80" y="218.70" width="4.90" height="4.0" rx="1.10" fill="#f5b193"/>
<rect x="310.30" y="218.70" width="4.90" height="4.0" rx="1.10" fill="#b6d88c"/>
<rect x="316.30" y="218.70" width="12.70" height="4.0" rx="1.10" fill="#6cad4a"/>
<rect x="329.90" y="218.70" width="10.30" height="4.0" rx="1.10" fill="#f8c61a"/>
<line x1="229.60" y1="227.73" x2="340.70" y2="227.73" stroke="#c4c4c4" stroke-width="0.6"/>
<rect x="232.30" y="225.73" width="4.10" height="4.0" rx="1.10" fill="#ee9ab8"/>
<rect x="236.40" y="225.73" width="7.40" height="4.0" rx="1.10" fill="#e4608a"/>
<rect x="243.80" y="225.73" width="2.10" height="4.0" rx="1.05" fill="#a8142a"/>
<rect x="246.20" y="225.73" width="5.70" height="4.0" rx="1.10" fill="#f2a42a"/>
<rect x="254.40" y="225.73" width="5.20" height="4.0" rx="1.10" fill="#4b3e8e"/>
<rect x="260.90" y="225.73" width="2.00" height="4.0" rx="1.00" fill="#6a8a5a"/>
<rect x="263.90" y="225.73" width="13.00" height="4.0" rx="1.10" fill="#e6132b"/>
<rect x="277.60" y="225.73" width="1.30" height="4.0" rx="0.65" fill="#5cb88a"/>
<rect x="278.90" y="225.73" width="6.20" height="4.0" rx="1.10" fill="#a39ec6"/>
<rect x="287.00" y="225.73" width="7.50" height="4.0" rx="1.10" fill="#157a6d"/>
<rect x="294.80" y="225.73" width="3.30" height="4.0" rx="1.10" fill="#7d8b7c"/>
<rect x="299.40" y="225.73" width="3.20" height="4.0" rx="1.10" fill="#2b62b0"/>
<rect x="304.60" y="225.73" width="5.20" height="4.0" rx="1.10" fill="#f5b193"/>
<rect x="311.10" y="225.73" width="4.90" height="4.0" rx="1.10" fill="#b6d88c"/>
<rect x="317.30" y="225.73" width="12.60" height="4.0" rx="1.10" fill="#6cad4a"/>
<rect x="330.30" y="225.73" width="10.40" height="4.0" rx="1.10" fill="#f8c61a"/>
<line x1="229.60" y1="234.76" x2="342.50" y2="234.76" stroke="#c4c4c4" stroke-width="0.6"/>
<rect x="232.30" y="232.76" width="4.10" height="4.0" rx="1.10" fill="#ee9ab8"/>
<rect x="236.40" y="232.76" width="7.40" height="4.0" rx="1.10" fill="#e4608a"/>
<rect x="243.80" y="232.76" width="2.10" height="4.0" rx="1.05" fill="#a8142a"/>
<rect x="246.20" y="232.76" width="5.70" height="4.0" rx="1.10" fill="#f2a42a"/>
<rect x="254.40" y="232.76" width="5.20" height="4.0" rx="1.10" fill="#4b3e8e"/>
<rect x="260.90" y="232.76" width="2.00" height="4.0" rx="1.00" fill="#6a8a5a"/>
<rect x="263.90" y="232.76" width="13.00" height="4.0" rx="1.10" fill="#e6132b"/>
<rect x="277.60" y="232.76" width="1.30" height="4.0" rx="0.65" fill="#5cb88a"/>
<rect x="278.90" y="232.76" width="6.20" height="4.0" rx="1.10" fill="#a39ec6"/>
<rect x="287.00" y="232.76" width="7.50" height="4.0" rx="1.10" fill="#157a6d"/>
<rect x="299.40" y="232.76" width="3.20" height="4.0" rx="1.10" fill="#2b62b0"/>
<rect x="305.90" y="232.76" width="4.90" height="4.0" rx="1.10" fill="#f5b193"/>
<rect x="312.00" y="232.76" width="4.80" height="4.0" rx="1.10" fill="#b6d88c"/>
<rect x="318.50" y="232.76" width="12.50" height="4.0" rx="1.10" fill="#6cad4a"/>
<rect x="332.30" y="232.76" width="10.20" height="4.0" rx="1.10" fill="#f8c61a"/>
<line x1="229.60" y1="241.79" x2="348.70" y2="241.79" stroke="#c4c4c4" stroke-width="0.6"/>
<rect x="237.70" y="239.79" width="7.20" height="4.0" rx="1.10" fill="#e4608a"/>
<rect x="249.20" y="239.79" width="5.20" height="4.0" rx="1.10" fill="#f2a42a"/>
<rect x="254.70" y="239.79" width="4.90" height="4.0" rx="1.10" fill="#b86a34"/>
<rect x="260.10" y="239.79" width="5.40" height="4.0" rx="1.10" fill="#4b3e8e"/>
<rect x="268.80" y="239.79" width="13.00" height="4.0" rx="1.10" fill="#e6132b"/>
<rect x="284.60" y="239.79" width="5.30" height="4.0" rx="1.10" fill="#a39ec6"/>
<rect x="292.30" y="239.79" width="7.70" height="4.0" rx="1.10" fill="#157a6d"/>
<rect x="300.50" y="239.79" width="3.30" height="4.0" rx="1.10" fill="#7d8b7c"/>
<rect x="304.30" y="239.79" width="3.60" height="4.0" rx="1.10" fill="#2b62b0"/>
<rect x="310.30" y="239.79" width="4.90" height="4.0" rx="1.10" fill="#f5b193"/>
<rect x="317.70" y="239.79" width="5.20" height="4.0" rx="1.10" fill="#b6d88c"/>
<rect x="324.20" y="239.79" width="13.40" height="4.0" rx="1.10" fill="#6cad4a"/>
<rect x="338.60" y="239.79" width="10.10" height="4.0" rx="1.10" fill="#f8c61a"/>
<line x1="229.60" y1="248.82" x2="348.70" y2="248.82" stroke="#c4c4c4" stroke-width="0.6"/>
<rect x="237.70" y="246.82" width="7.20" height="4.0" rx="1.10" fill="#e4608a"/>
<rect x="249.20" y="246.82" width="5.20" height="4.0" rx="1.10" fill="#f2a42a"/>
<rect x="254.70" y="246.82" width="4.90" height="4.0" rx="1.10" fill="#b86a34"/>
<rect x="260.10" y="246.82" width="5.40" height="4.0" rx="1.10" fill="#4b3e8e"/>
<rect x="268.80" y="246.82" width="13.00" height="4.0" rx="1.10" fill="#e6132b"/>
<rect x="284.60" y="246.82" width="5.30" height="4.0" rx="1.10" fill="#a39ec6"/>
<rect x="292.30" y="246.82" width="7.70" height="4.0" rx="1.10" fill="#157a6d"/>
<rect x="300.50" y="246.82" width="3.30" height="4.0" rx="1.10" fill="#7d8b7c"/>
<rect x="304.30" y="246.82" width="3.60" height="4.0" rx="1.10" fill="#2b62b0"/>
<rect x="310.30" y="246.82" width="4.90" height="4.0" rx="1.10" fill="#f5b193"/>
<rect x="317.70" y="246.82" width="5.20" height="4.0" rx="1.10" fill="#b6d88c"/>
<rect x="324.20" y="246.82" width="13.40" height="4.0" rx="1.10" fill="#6cad4a"/>
<rect x="338.60" y="246.82" width="10.10" height="4.0" rx="1.10" fill="#f8c61a"/>
<line x1="229.60" y1="255.85" x2="348.70" y2="255.85" stroke="#c4c4c4" stroke-width="0.6"/>
<rect x="237.70" y="253.85" width="7.20" height="4.0" rx="1.10" fill="#e4608a"/>
<rect x="249.20" y="253.85" width="5.20" height="4.0" rx="1.10" fill="#f2a42a"/>
<rect x="254.70" y="253.85" width="4.90" height="4.0" rx="1.10" fill="#b86a34"/>
<rect x="260.10" y="253.85" width="5.40" height="4.0" rx="1.10" fill="#4b3e8e"/>
<rect x="268.80" y="253.85" width="13.00" height="4.0" rx="1.10" fill="#e6132b"/>
<rect x="284.60" y="253.85" width="5.30" height="4.0" rx="1.10" fill="#a39ec6"/>
<rect x="292.30" y="253.85" width="7.70" height="4.0" rx="1.10" fill="#157a6d"/>
<rect x="300.50" y="253.85" width="3.30" height="4.0" rx="1.10" fill="#7d8b7c"/>
<rect x="304.30" y="253.85" width="3.60" height="4.0" rx="1.10" fill="#2b62b0"/>
<rect x="310.30" y="253.85" width="4.90" height="4.0" rx="1.10" fill="#f5b193"/>
<rect x="317.70" y="253.85" width="5.20" height="4.0" rx="1.10" fill="#b6d88c"/>
<rect x="324.20" y="253.85" width="13.40" height="4.0" rx="1.10" fill="#6cad4a"/>
<rect x="338.60" y="253.85" width="10.10" height="4.0" rx="1.10" fill="#f8c61a"/>
<line x1="229.60" y1="262.88" x2="343.80" y2="262.88" stroke="#c4c4c4" stroke-width="0.6"/>
<rect x="239.40" y="260.88" width="3.20" height="4.0" rx="1.10" fill="#ee9ab8"/>
<rect x="242.60" y="260.88" width="7.70" height="4.0" rx="1.10" fill="#e4608a"/>
<rect x="254.00" y="260.88" width="5.30" height="4.0" rx="1.10" fill="#f2a42a"/>
<rect x="260.90" y="260.88" width="5.20" height="4.0" rx="1.10" fill="#4b3e8e"/>
<rect x="271.00" y="260.88" width="7.60" height="4.0" rx="1.10" fill="#e0482a"/>
<rect x="280.80" y="260.88" width="5.40" height="4.0" rx="1.10" fill="#b86a34"/>
<rect x="287.00" y="260.88" width="4.20" height="4.0" rx="1.10" fill="#a39ec6"/>
<rect x="302.10" y="260.88" width="3.30" height="4.0" rx="1.10" fill="#2b62b0"/>
<rect x="307.00" y="260.88" width="4.90" height="4.0" rx="1.10" fill="#f5b193"/>
<rect x="313.60" y="260.88" width="4.90" height="4.0" rx="1.10" fill="#b6d88c"/>
<rect x="319.30" y="260.88" width="13.00" height="4.0" rx="1.10" fill="#6cad4a"/>
<rect x="333.20" y="260.88" width="10.60" height="4.0" rx="1.10" fill="#f8c61a"/>
<line x1="229.60" y1="269.91" x2="344.10" y2="269.91" stroke="#c4c4c4" stroke-width="0.6"/>
<rect x="243.80" y="267.91" width="7.30" height="4.0" rx="1.10" fill="#e4608a"/>
<rect x="254.70" y="267.91" width="4.90" height="4.0" rx="1.10" fill="#f2a42a"/>
<rect x="261.20" y="267.91" width="4.90" height="4.0" rx="1.10" fill="#4b3e8e"/>
<rect x="271.50" y="267.91" width="7.40" height="4.0" rx="1.10" fill="#e0482a"/>
<rect x="280.80" y="267.91" width="4.90" height="4.0" rx="1.10" fill="#b86a34"/>
<rect x="286.60" y="267.91" width="4.90" height="4.0" rx="1.10" fill="#a39ec6"/>
<rect x="293.50" y="267.91" width="7.50" height="4.0" rx="1.10" fill="#157a6d"/>
<rect x="302.10" y="267.91" width="3.80" height="4.0" rx="1.10" fill="#2b62b0"/>
<rect x="307.50" y="267.91" width="4.90" height="4.0" rx="1.10" fill="#f5b193"/>
<rect x="314.10" y="267.91" width="5.20" height="4.0" rx="1.10" fill="#b6d88c"/>
<rect x="320.10" y="267.91" width="13.10" height="4.0" rx="1.10" fill="#6cad4a"/>
<rect x="334.00" y="267.91" width="10.10" height="4.0" rx="1.10" fill="#f8c61a"/>
<line x1="229.60" y1="276.94" x2="336.40" y2="276.94" stroke="#c4c4c4" stroke-width="0.6"/>
<rect x="235.60" y="274.94" width="7.40" height="4.0" rx="1.10" fill="#e4608a"/>
<rect x="246.20" y="274.94" width="5.70" height="4.0" rx="1.10" fill="#f2a42a"/>
<rect x="253.10" y="274.94" width="5.40" height="4.0" rx="1.10" fill="#4b3e8e"/>
<rect x="262.90" y="274.94" width="7.50" height="4.0" rx="1.10" fill="#e0482a"/>
<rect x="278.90" y="274.94" width="4.90" height="4.0" rx="1.10" fill="#a39ec6"/>
<rect x="285.80" y="274.94" width="7.40" height="4.0" rx="1.10" fill="#157a6d"/>
<rect x="294.80" y="274.94" width="4.10" height="4.0" rx="1.10" fill="#2b62b0"/>
<rect x="300.50" y="274.94" width="4.90" height="4.0" rx="1.10" fill="#f5b193"/>
<rect x="306.20" y="274.94" width="4.90" height="4.0" rx="1.10" fill="#b6d88c"/>
<rect x="311.90" y="274.94" width="13.10" height="4.0" rx="1.10" fill="#6cad4a"/>
<rect x="325.80" y="274.94" width="10.60" height="4.0" rx="1.10" fill="#f8c61a"/>
<line x1="229.60" y1="283.97" x2="336.40" y2="283.97" stroke="#c4c4c4" stroke-width="0.6"/>
<rect x="238.40" y="281.97" width="7.50" height="4.0" rx="1.10" fill="#e4608a"/>
<rect x="249.20" y="281.97" width="4.90" height="4.0" rx="1.10" fill="#f2a42a"/>
<rect x="255.70" y="281.97" width="5.20" height="4.0" rx="1.10" fill="#4b3e8e"/>
<rect x="265.50" y="281.97" width="7.70" height="4.0" rx="1.10" fill="#e0482a"/>
<rect x="278.90" y="281.97" width="5.70" height="4.0" rx="1.10" fill="#a39ec6"/>
<rect x="285.80" y="281.97" width="7.40" height="4.0" rx="1.10" fill="#157a6d"/>
<rect x="295.10" y="281.97" width="3.80" height="4.0" rx="1.10" fill="#2b62b0"/>
<rect x="300.00" y="281.97" width="4.30" height="4.0" rx="1.10" fill="#f5b193"/>
<rect x="305.40" y="281.97" width="5.40" height="4.0" rx="1.10" fill="#b6d88c"/>
<rect x="311.90" y="281.97" width="13.10" height="4.0" rx="1.10" fill="#6cad4a"/>
<rect x="325.80" y="281.97" width="10.60" height="4.0" rx="1.10" fill="#f8c61a"/>
<line x1="229.60" y1="291.00" x2="336.40" y2="291.00" stroke="#c4c4c4" stroke-width="0.6"/>
<rect x="238.40" y="289.00" width="7.50" height="4.0" rx="1.10" fill="#e4608a"/>
<rect x="249.20" y="289.00" width="4.90" height="4.0" rx="1.10" fill="#f2a42a"/>
<rect x="255.70" y="289.00" width="5.20" height="4.0" rx="1.10" fill="#4b3e8e"/>
<rect x="265.50" y="289.00" width="7.70" height="4.0" rx="1.10" fill="#e0482a"/>
<rect x="278.90" y="289.00" width="5.70" height="4.0" rx="1.10" fill="#a39ec6"/>
<rect x="285.80" y="289.00" width="7.40" height="4.0" rx="1.10" fill="#157a6d"/>
<rect x="295.10" y="289.00" width="3.80" height="4.0" rx="1.10" fill="#2b62b0"/>
<rect x="300.00" y="289.00" width="4.30" height="4.0" rx="1.10" fill="#f5b193"/>
<rect x="305.40" y="289.00" width="5.40" height="4.0" rx="1.10" fill="#b6d88c"/>
<rect x="311.90" y="289.00" width="13.10" height="4.0" rx="1.10" fill="#6cad4a"/>
<rect x="325.80" y="289.00" width="10.60" height="4.0" rx="1.10" fill="#f8c61a"/>
<line x1="229.60" y1="298.03" x2="334.30" y2="298.03" stroke="#c4c4c4" stroke-width="0.6"/>
<rect x="232.30" y="296.03" width="4.10" height="4.0" rx="1.10" fill="#ee9ab8"/>
<rect x="236.40" y="296.03" width="7.40" height="4.0" rx="1.10" fill="#e4608a"/>
<rect x="246.60" y="296.03" width="5.30" height="4.0" rx="1.10" fill="#f2a42a"/>
<rect x="253.60" y="296.03" width="5.70" height="4.0" rx="1.10" fill="#4b3e8e"/>
<rect x="263.40" y="296.03" width="7.60" height="4.0" rx="1.10" fill="#e0482a"/>
<rect x="278.00" y="296.03" width="5.40" height="4.0" rx="1.10" fill="#a39ec6"/>
<rect x="284.60" y="296.03" width="6.90" height="4.0" rx="1.10" fill="#157a6d"/>
<rect x="293.50" y="296.03" width="3.70" height="4.0" rx="1.10" fill="#2b62b0"/>
<rect x="298.40" y="296.03" width="4.60" height="4.0" rx="1.10" fill="#f5b193"/>
<rect x="304.30" y="296.03" width="4.90" height="4.0" rx="1.10" fill="#b6d88c"/>
<rect x="310.30" y="296.03" width="13.10" height="4.0" rx="1.10" fill="#6cad4a"/>
<rect x="324.20" y="296.03" width="10.10" height="4.0" rx="1.10" fill="#f8c61a"/>
<line x1="229.60" y1="305.06" x2="332.70" y2="305.06" stroke="#c4c4c4" stroke-width="0.6"/>
<rect x="231.50" y="303.06" width="4.10" height="4.0" rx="1.10" fill="#ee9ab8"/>
<rect x="235.60" y="303.06" width="7.40" height="4.0" rx="1.10" fill="#e4608a"/>
<rect x="246.20" y="303.06" width="5.70" height="4.0" rx="1.10" fill="#f2a42a"/>
<rect x="254.10" y="303.06" width="5.20" height="4.0" rx="1.10" fill="#4b3e8e"/>
<rect x="261.20" y="303.06" width="7.90" height="4.0" rx="1.10" fill="#e0482a"/>
<rect x="274.80" y="303.06" width="5.70" height="4.0" rx="1.10" fill="#a39ec6"/>
<rect x="282.10" y="303.06" width="7.50" height="4.0" rx="1.10" fill="#157a6d"/>
<rect x="291.90" y="303.06" width="3.70" height="4.0" rx="1.10" fill="#2b62b0"/>
<rect x="302.60" y="303.06" width="4.90" height="4.0" rx="1.10" fill="#b6d88c"/>
<rect x="308.20" y="303.06" width="13.00" height="4.0" rx="1.10" fill="#6cad4a"/>
<rect x="322.20" y="303.06" width="10.50" height="4.0" rx="1.10" fill="#f8c61a"/>
<line x1="229.60" y1="312.09" x2="333.20" y2="312.09" stroke="#c4c4c4" stroke-width="0.6"/>
<rect x="235.60" y="310.09" width="7.70" height="4.0" rx="1.10" fill="#e4608a"/>
<rect x="246.60" y="310.09" width="5.30" height="4.0" rx="1.10" fill="#f2a42a"/>
<rect x="254.40" y="310.09" width="5.20" height="4.0" rx="1.10" fill="#4b3e8e"/>
<rect x="262.90" y="310.09" width="7.80" height="4.0" rx="1.10" fill="#e0482a"/>
<rect x="277.60" y="310.09" width="5.40" height="4.0" rx="1.10" fill="#a39ec6"/>
<rect x="292.80" y="310.09" width="3.60" height="4.0" rx="1.10" fill="#2b62b0"/>
<rect x="303.00" y="310.09" width="4.90" height="4.0" rx="1.10" fill="#b6d88c"/>
<rect x="308.70" y="310.09" width="13.00" height="4.0" rx="1.10" fill="#6cad4a"/>
<rect x="322.60" y="310.09" width="10.60" height="4.0" rx="1.10" fill="#f8c61a"/>
<line x1="229.60" y1="319.12" x2="333.20" y2="319.12" stroke="#c4c4c4" stroke-width="0.6"/>
<rect x="237.20" y="317.12" width="7.10" height="4.0" rx="1.10" fill="#e4608a"/>
<rect x="247.00" y="317.12" width="5.80" height="4.0" rx="1.10" fill="#f2a42a"/>
<rect x="255.20" y="317.12" width="5.40" height="4.0" rx="1.10" fill="#4b3e8e"/>
<rect x="262.60" y="317.12" width="7.30" height="4.0" rx="1.10" fill="#e0482a"/>
<rect x="276.90" y="317.12" width="5.20" height="4.0" rx="1.10" fill="#a39ec6"/>
<rect x="283.80" y="317.12" width="6.90" height="4.0" rx="1.10" fill="#157a6d"/>
<rect x="292.80" y="317.12" width="3.60" height="4.0" rx="1.10" fill="#2b62b0"/>
<rect x="297.70" y="317.12" width="4.90" height="4.0" rx="1.10" fill="#f5b193"/>
<rect x="308.70" y="317.12" width="13.00" height="4.0" rx="1.10" fill="#6cad4a"/>
<rect x="322.60" y="317.12" width="10.60" height="4.0" rx="1.10" fill="#f8c61a"/>
<line x1="229.60" y1="326.15" x2="333.20" y2="326.15" stroke="#c4c4c4" stroke-width="0.6"/>
<rect x="231.50" y="324.15" width="4.10" height="4.0" rx="1.10" fill="#ee9ab8"/>
<rect x="235.60" y="324.15" width="7.70" height="4.0" rx="1.10" fill="#e4608a"/>
<rect x="247.00" y="324.15" width="5.40" height="4.0" rx="1.10" fill="#f2a42a"/>
<rect x="255.20" y="324.15" width="5.40" height="4.0" rx="1.10" fill="#4b3e8e"/>
<rect x="262.20" y="324.15" width="7.70" height="4.0" rx="1.10" fill="#e0482a"/>
<rect x="277.20" y="324.15" width="5.20" height="4.0" rx="1.10" fill="#a39ec6"/>
<rect x="283.80" y="324.15" width="6.90" height="4.0" rx="1.10" fill="#157a6d"/>
<rect x="297.20" y="324.15" width="4.90" height="4.0" rx="1.10" fill="#f5b193"/>
<rect x="303.30" y="324.15" width="4.90" height="4.0" rx="1.10" fill="#b6d88c"/>
<rect x="308.70" y="324.15" width="13.00" height="4.0" rx="1.10" fill="#6cad4a"/>
<rect x="322.60" y="324.15" width="10.60" height="4.0" rx="1.10" fill="#f8c61a"/>
<rect x="226.6" y="97.6" width="126.7" height="35.4" fill="none" stroke="#62b8e2" stroke-width="1.0"/>
<rect x="226.6" y="237.5" width="127" height="21.3" fill="none" stroke="#eeaa7a" stroke-width="0.9"/>
<line x1="229.70" y1="332.40" x2="366.30" y2="332.40" stroke="#8a8a8a" stroke-width="0.8"/>
<line x1="229.75" y1="332.40" x2="229.75" y2="334.20" stroke="#8a8a8a" stroke-width="0.7"/>
<line x1="257.05" y1="332.40" x2="257.05" y2="334.20" stroke="#8a8a8a" stroke-width="0.7"/>
<line x1="284.35" y1="332.40" x2="284.35" y2="334.20" stroke="#8a8a8a" stroke-width="0.7"/>
<line x1="311.65" y1="332.40" x2="311.65" y2="334.20" stroke="#8a8a8a" stroke-width="0.7"/>
<line x1="338.95" y1="332.40" x2="338.95" y2="334.20" stroke="#8a8a8a" stroke-width="0.7"/>
<line x1="366.25" y1="332.40" x2="366.25" y2="334.20" stroke="#8a8a8a" stroke-width="0.7"/>
<g font-family="Liberation Sans" font-size="2.9" fill="#444" stroke="#444" stroke-width="0.05" text-anchor="middle"><text x="229.75" y="336.4">0</text><text x="257.05" y="336.4">100</text><text x="284.35" y="336.4">200</text><text x="311.65" y="336.4">300</text><text x="338.95" y="336.4">400</text><text x="366.25" y="336.4">500</text><text x="229.6" y="340.4">a</text><text x="367" y="340.4">?</text></g>
<rect x="378" y="1.25" width="8.3" height="4.2" rx="1" fill="#e4608a"/>
<rect x="378" y="8.28" width="8.3" height="4.2" rx="1" fill="#f2a42a"/>
<rect x="378" y="15.31" width="8.3" height="4.2" rx="1" fill="#4b3e8e"/>
<rect x="378" y="22.34" width="8.3" height="4.2" rx="1" fill="#e6132b"/>
<rect x="378" y="29.37" width="8.3" height="4.2" rx="1" fill="#a39ec6"/>
<rect x="378" y="36.40" width="8.3" height="4.2" rx="1" fill="#157a6d"/>
<rect x="378" y="43.43" width="8.3" height="4.2" rx="1" fill="#f5b193"/>
<rect x="378" y="50.46" width="8.3" height="4.2" rx="1" fill="#b6d88c"/>
<rect x="378" y="57.49" width="8.3" height="4.2" rx="1" fill="#6cad4a"/>
<rect x="378" y="64.52" width="8.3" height="4.2" rx="1" fill="#f8c61a"/>
<rect x="378" y="71.55" width="8.3" height="4.2" rx="1" fill="#a8142a"/>
<rect x="378" y="78.58" width="8.3" height="4.2" rx="1" fill="#7d8b7c"/>
<rect x="378" y="85.61" width="8.3" height="4.2" rx="1" fill="#ee9ab8"/>
<rect x="378" y="92.64" width="8.3" height="4.2" rx="1" fill="#4a0c14"/>
<rect x="378" y="99.67" width="8.3" height="4.2" rx="1" fill="#5cb88a"/>
<rect x="378" y="106.70" width="8.3" height="4.2" rx="1" fill="#2b62b0"/>
<rect x="378" y="113.73" width="8.3" height="4.2" rx="1" fill="#0c0c2e"/>
<rect x="378" y="120.76" width="8.3" height="4.2" rx="1" fill="#6a8a5a"/>
<rect x="378" y="127.79" width="8.3" height="4.2" rx="1" fill="#b86a34"/>
<rect x="378" y="134.82" width="8.3" height="4.2" rx="1" fill="#e0482a"/>
<g font-family="Liberation Sans" font-size="3.1" fill="#111" stroke="#111" stroke-width="0.1"><text x="388" y="4.20">Motif 1</text><text x="388" y="11.23">Motif 8</text><text x="388" y="18.26">Motif 6</text><text x="388" y="25.29">Motif 5</text><text x="388" y="32.32">Motif 3</text><text x="388" y="39.35">Motif 4</text><text x="388" y="46.38">Motif 10</text><text x="388" y="53.41">Motif 7</text><text x="388" y="60.44">Motif 1</text><text x="388" y="67.47">Motif 2</text><text x="388" y="74.50">Motif 16</text><text x="388" y="81.53">Motif 11</text><text x="388" y="88.56">Motif 14</text><text x="388" y="95.59">Motif 17</text><text x="388" y="102.62">Motif 12</text><text x="388" y="109.65">Motif 15</text><text x="388" y="116.68">Motif 19</text><text x="388" y="123.71">Motif 18</text><text x="388" y="130.74">Motif 20</text><text x="388" y="137.77">Motif 9</text></g>
</svg></body></html>
